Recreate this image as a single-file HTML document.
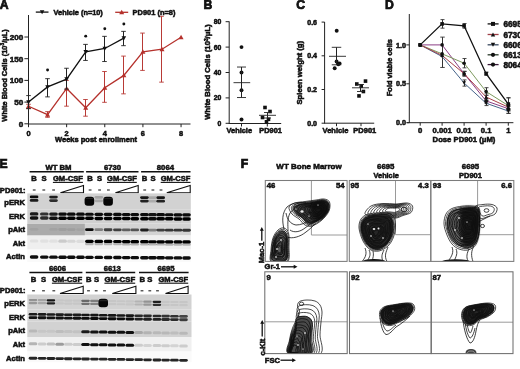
<!DOCTYPE html>
<html><head><meta charset="utf-8"><style>
html,body{margin:0;padding:0;background:#fff;width:520px;height:369px;overflow:hidden}
svg{display:block;will-change:transform}
text{font-family:"Liberation Sans", sans-serif;stroke:#000;stroke-width:0.5px;paint-order:stroke}
</style></head><body>
<svg width="520" height="369" viewBox="0 0 520 369" font-family="Liberation Sans, sans-serif">
<defs>
<filter id="b1" x="-30%" y="-100%" width="160%" height="300%"><feGaussianBlur stdDeviation="0.75"/></filter>
<filter id="b06" x="-20%" y="-20%" width="140%" height="140%"><feGaussianBlur stdDeviation="0.6"/></filter>
<filter id="b15" x="-40%" y="-40%" width="180%" height="180%"><feGaussianBlur stdDeviation="1.6"/></filter>
</defs>
<rect width="520" height="369" fill="#fff"/>
<text x="-0.30" y="8.60" font-size="12.2" text-anchor="start" font-weight="bold" fill="#111" style="stroke-width:0.7px">A</text>
<text x="203.60" y="8.80" font-size="12.2" text-anchor="start" font-weight="bold" fill="#111" style="stroke-width:0.7px">B</text>
<text x="296.20" y="9.00" font-size="12.2" text-anchor="start" font-weight="bold" fill="#111" style="stroke-width:0.7px">C</text>
<text x="385.00" y="8.60" font-size="12.2" text-anchor="start" font-weight="bold" fill="#111" style="stroke-width:0.7px">D</text>
<text x="-0.50" y="167.80" font-size="12.2" text-anchor="start" font-weight="bold" fill="#111" style="stroke-width:0.7px">E</text>
<text x="240.80" y="167.90" font-size="12.2" text-anchor="start" font-weight="bold" fill="#111" style="stroke-width:0.7px">F</text>
<line x1="28.50" y1="15.00" x2="28.50" y2="124.30" stroke="#222" stroke-width="1.0" />
<line x1="24.40" y1="123.80" x2="28.50" y2="123.80" stroke="#222" stroke-width="1.0" />
<text x="23.30" y="126.75" font-size="8.1" text-anchor="end" font-weight="bold" fill="#111" >0</text>
<line x1="24.40" y1="102.10" x2="28.50" y2="102.10" stroke="#222" stroke-width="1.0" />
<text x="23.30" y="105.05" font-size="8.1" text-anchor="end" font-weight="bold" fill="#111" >50</text>
<line x1="24.40" y1="80.40" x2="28.50" y2="80.40" stroke="#222" stroke-width="1.0" />
<text x="23.30" y="83.35" font-size="8.1" text-anchor="end" font-weight="bold" fill="#111" >100</text>
<line x1="24.40" y1="58.70" x2="28.50" y2="58.70" stroke="#222" stroke-width="1.0" />
<text x="23.30" y="61.65" font-size="8.1" text-anchor="end" font-weight="bold" fill="#111" >150</text>
<line x1="24.40" y1="37.00" x2="28.50" y2="37.00" stroke="#222" stroke-width="1.0" />
<text x="23.30" y="39.95" font-size="8.1" text-anchor="end" font-weight="bold" fill="#111" >200</text>
<line x1="28.00" y1="124.00" x2="190.50" y2="124.00" stroke="#222" stroke-width="1.0" />
<line x1="28.50" y1="124.00" x2="28.50" y2="127.20" stroke="#222" stroke-width="1.0" />
<line x1="66.64" y1="124.00" x2="66.64" y2="127.20" stroke="#222" stroke-width="1.0" />
<line x1="104.78" y1="124.00" x2="104.78" y2="127.20" stroke="#222" stroke-width="1.0" />
<line x1="142.92" y1="124.00" x2="142.92" y2="127.20" stroke="#222" stroke-width="1.0" />
<line x1="181.06" y1="124.00" x2="181.06" y2="127.20" stroke="#222" stroke-width="1.0" />
<text x="28.50" y="135.60" font-size="7.4" text-anchor="middle" font-weight="bold" fill="#111" >0</text>
<text x="66.64" y="135.60" font-size="7.4" text-anchor="middle" font-weight="bold" fill="#111" >2</text>
<text x="104.78" y="135.60" font-size="7.4" text-anchor="middle" font-weight="bold" fill="#111" >4</text>
<text x="142.92" y="135.60" font-size="7.4" text-anchor="middle" font-weight="bold" fill="#111" >6</text>
<text x="181.06" y="135.60" font-size="7.4" text-anchor="middle" font-weight="bold" fill="#111" >8</text>
<text x="96.00" y="142.20" font-size="7.5" text-anchor="middle" font-weight="bold" fill="#111" >Weeks post enrollment</text>
<text transform="translate(6.8,75.4) rotate(-90)" font-size="7.45" text-anchor="middle" font-weight="bold" fill="#111">White Blood Cells (10<tspan font-size="5" dy="-2.5">3</tspan><tspan dy="2.5">/μL)</tspan></text>
<line x1="28.50" y1="108.61" x2="28.50" y2="104.27" stroke="#b83a36" stroke-width="1.0" />
<line x1="26.20" y1="108.61" x2="30.80" y2="108.61" stroke="#b83a36" stroke-width="0.9" />
<line x1="26.20" y1="104.27" x2="30.80" y2="104.27" stroke="#b83a36" stroke-width="0.9" />
<line x1="47.50" y1="117.29" x2="47.50" y2="111.65" stroke="#b83a36" stroke-width="1.0" />
<line x1="45.20" y1="117.29" x2="49.80" y2="117.29" stroke="#b83a36" stroke-width="0.9" />
<line x1="45.20" y1="111.65" x2="49.80" y2="111.65" stroke="#b83a36" stroke-width="0.9" />
<line x1="66.50" y1="106.18" x2="66.50" y2="80.40" stroke="#b83a36" stroke-width="1.0" />
<line x1="64.20" y1="106.18" x2="68.80" y2="106.18" stroke="#b83a36" stroke-width="0.9" />
<line x1="64.20" y1="80.40" x2="68.80" y2="80.40" stroke="#b83a36" stroke-width="0.9" />
<line x1="85.50" y1="116.20" x2="85.50" y2="99.50" stroke="#b83a36" stroke-width="1.0" />
<line x1="83.20" y1="116.20" x2="87.80" y2="116.20" stroke="#b83a36" stroke-width="0.9" />
<line x1="83.20" y1="99.50" x2="87.80" y2="99.50" stroke="#b83a36" stroke-width="0.9" />
<line x1="104.50" y1="102.32" x2="104.50" y2="71.50" stroke="#b83a36" stroke-width="1.0" />
<line x1="102.20" y1="102.32" x2="106.80" y2="102.32" stroke="#b83a36" stroke-width="0.9" />
<line x1="102.20" y1="71.50" x2="106.80" y2="71.50" stroke="#b83a36" stroke-width="0.9" />
<line x1="123.50" y1="93.85" x2="123.50" y2="56.10" stroke="#b83a36" stroke-width="1.0" />
<line x1="121.20" y1="93.85" x2="125.80" y2="93.85" stroke="#b83a36" stroke-width="0.9" />
<line x1="121.20" y1="56.10" x2="125.80" y2="56.10" stroke="#b83a36" stroke-width="0.9" />
<line x1="142.50" y1="70.42" x2="142.50" y2="33.09" stroke="#b83a36" stroke-width="1.0" />
<line x1="140.20" y1="70.42" x2="144.80" y2="70.42" stroke="#b83a36" stroke-width="0.9" />
<line x1="140.20" y1="33.09" x2="144.80" y2="33.09" stroke="#b83a36" stroke-width="0.9" />
<line x1="161.50" y1="82.14" x2="161.50" y2="16.30" stroke="#b83a36" stroke-width="1.0" />
<line x1="159.20" y1="82.14" x2="163.80" y2="82.14" stroke="#b83a36" stroke-width="0.9" />
<line x1="159.20" y1="16.30" x2="163.80" y2="16.30" stroke="#b83a36" stroke-width="0.9" />
<polyline points="28.50,106.22 47.57,114.69 66.64,88.43 85.71,107.74 104.78,87.78 123.85,75.41 142.92,51.89 161.99,49.24 181.06,37.30" fill="none" stroke="#b5312c" stroke-width="1.3"/>
<polygon points="26.00,108.17 31.00,108.17 28.50,103.67" fill="#b5312c"/>
<polygon points="45.07,116.64 50.07,116.64 47.57,112.14" fill="#b5312c"/>
<polygon points="64.14,90.38 69.14,90.38 66.64,85.88" fill="#b5312c"/>
<polygon points="83.21,109.69 88.21,109.69 85.71,105.19" fill="#b5312c"/>
<polygon points="102.28,89.73 107.28,89.73 104.78,85.23" fill="#b5312c"/>
<polygon points="121.35,77.36 126.35,77.36 123.85,72.86" fill="#b5312c"/>
<polygon points="140.42,53.84 145.42,53.84 142.92,49.34" fill="#b5312c"/>
<polygon points="159.49,51.19 164.49,51.19 161.99,46.69" fill="#b5312c"/>
<polygon points="178.56,39.25 183.56,39.25 181.06,34.75" fill="#b5312c"/>
<line x1="28.50" y1="108.61" x2="28.50" y2="95.59" stroke="#222" stroke-width="1.0" />
<line x1="26.20" y1="108.61" x2="30.80" y2="108.61" stroke="#222" stroke-width="0.9" />
<line x1="26.20" y1="95.59" x2="30.80" y2="95.59" stroke="#222" stroke-width="0.9" />
<line x1="47.50" y1="96.89" x2="47.50" y2="78.66" stroke="#222" stroke-width="1.0" />
<line x1="45.20" y1="96.89" x2="49.80" y2="96.89" stroke="#222" stroke-width="0.9" />
<line x1="45.20" y1="78.66" x2="49.80" y2="78.66" stroke="#222" stroke-width="0.9" />
<line x1="66.50" y1="89.08" x2="66.50" y2="68.25" stroke="#222" stroke-width="1.0" />
<line x1="64.20" y1="89.08" x2="68.80" y2="89.08" stroke="#222" stroke-width="0.9" />
<line x1="64.20" y1="68.25" x2="68.80" y2="68.25" stroke="#222" stroke-width="0.9" />
<line x1="85.50" y1="60.44" x2="85.50" y2="44.38" stroke="#222" stroke-width="1.0" />
<line x1="83.20" y1="60.44" x2="87.80" y2="60.44" stroke="#222" stroke-width="0.9" />
<line x1="83.20" y1="44.38" x2="87.80" y2="44.38" stroke="#222" stroke-width="0.9" />
<line x1="104.50" y1="61.52" x2="104.50" y2="36.35" stroke="#222" stroke-width="1.0" />
<line x1="102.20" y1="61.52" x2="106.80" y2="61.52" stroke="#222" stroke-width="0.9" />
<line x1="102.20" y1="36.35" x2="106.80" y2="36.35" stroke="#222" stroke-width="0.9" />
<line x1="123.50" y1="45.68" x2="123.50" y2="31.36" stroke="#222" stroke-width="1.0" />
<line x1="121.20" y1="45.68" x2="125.80" y2="45.68" stroke="#222" stroke-width="0.9" />
<line x1="121.20" y1="31.36" x2="125.80" y2="31.36" stroke="#222" stroke-width="0.9" />
<polyline points="28.50,102.10 47.57,86.91 66.64,79.10 85.71,51.76 104.78,48.50 123.85,38.08" fill="none" stroke="#111" stroke-width="1.3"/>
<polygon points="26.20,100.33 30.80,100.33 28.50,104.47" fill="#111"/>
<polygon points="45.27,85.14 49.87,85.14 47.57,89.28" fill="#111"/>
<polygon points="64.34,77.33 68.94,77.33 66.64,81.47" fill="#111"/>
<polygon points="83.41,49.99 88.01,49.99 85.71,54.13" fill="#111"/>
<polygon points="102.48,46.73 107.08,46.73 104.78,50.87" fill="#111"/>
<polygon points="121.55,36.31 126.15,36.31 123.85,40.45" fill="#111"/>
<circle cx="47.57" cy="69.98" r="1.45" fill="#111"/>
<circle cx="85.71" cy="36.13" r="1.45" fill="#111"/>
<circle cx="104.78" cy="28.75" r="1.45" fill="#111"/>
<circle cx="123.85" cy="23.98" r="1.45" fill="#111"/>
<line x1="35.80" y1="12.10" x2="48.50" y2="12.10" stroke="#111" stroke-width="1.3" />
<polygon points="39.80,10.23 44.40,10.23 42.10,14.37" fill="#111"/>
<text x="53.60" y="14.70" font-size="7.35" text-anchor="start" font-weight="bold" fill="#111" >Vehicle (n=10)</text>
<line x1="115.20" y1="12.30" x2="128.20" y2="12.30" stroke="#b5312c" stroke-width="1.3" />
<polygon points="119.20,14.15 124.20,14.15 121.70,9.65" fill="#b5312c"/>
<text x="132.60" y="14.90" font-size="7.45" text-anchor="start" font-weight="bold" fill="#111" >PD901 (n=8)</text>
<line x1="229.20" y1="21.40" x2="229.20" y2="123.80" stroke="#222" stroke-width="1.0" />
<line x1="225.60" y1="123.30" x2="229.20" y2="123.30" stroke="#222" stroke-width="1.0" />
<text x="221.20" y="125.80" font-size="6.8" text-anchor="end" font-weight="bold" fill="#111" >0</text>
<line x1="225.60" y1="97.90" x2="229.20" y2="97.90" stroke="#222" stroke-width="1.0" />
<text x="221.20" y="100.40" font-size="6.8" text-anchor="end" font-weight="bold" fill="#111" >20</text>
<line x1="225.60" y1="72.50" x2="229.20" y2="72.50" stroke="#222" stroke-width="1.0" />
<text x="221.20" y="75.00" font-size="6.8" text-anchor="end" font-weight="bold" fill="#111" >40</text>
<line x1="225.60" y1="47.10" x2="229.20" y2="47.10" stroke="#222" stroke-width="1.0" />
<text x="221.20" y="49.60" font-size="6.8" text-anchor="end" font-weight="bold" fill="#111" >60</text>
<line x1="225.60" y1="21.70" x2="229.20" y2="21.70" stroke="#222" stroke-width="1.0" />
<text x="221.20" y="24.20" font-size="6.8" text-anchor="end" font-weight="bold" fill="#111" >80</text>
<line x1="228.80" y1="123.50" x2="281.20" y2="123.50" stroke="#222" stroke-width="1.0" />
<line x1="241.50" y1="123.50" x2="241.50" y2="126.50" stroke="#222" stroke-width="1.0" />
<line x1="267.30" y1="123.50" x2="267.30" y2="126.50" stroke="#222" stroke-width="1.0" />
<text x="239.30" y="132.70" font-size="7.4" text-anchor="middle" font-weight="bold" fill="#111" >Vehicle</text>
<text x="270.60" y="132.70" font-size="7.4" text-anchor="middle" font-weight="bold" fill="#111" >PD901</text>
<text transform="translate(210.3,72.0) rotate(-90)" font-size="7.7" text-anchor="middle" font-weight="bold" fill="#111">White Blood Cells (10<tspan font-size="4.8" dy="-2.5">3</tspan><tspan dy="2.5">/μL)</tspan></text>
<circle cx="241.50" cy="47.10" r="1.95" fill="#111"/>
<circle cx="241.50" cy="72.50" r="1.95" fill="#111"/>
<circle cx="241.50" cy="90.28" r="1.95" fill="#111"/>
<circle cx="241.50" cy="119.49" r="1.95" fill="#111"/>
<line x1="233.50" y1="82.66" x2="250.20" y2="82.66" stroke="#222" stroke-width="0.9" />
<line x1="241.50" y1="97.52" x2="241.50" y2="67.04" stroke="#222" stroke-width="1.0" />
<line x1="237.00" y1="97.52" x2="246.00" y2="97.52" stroke="#222" stroke-width="0.9" />
<line x1="237.00" y1="67.04" x2="246.00" y2="67.04" stroke="#222" stroke-width="0.9" />
<rect x="263.20" y="105.70" width="3.60" height="3.60" fill="#111" />
<rect x="268.20" y="109.70" width="3.60" height="3.60" fill="#111" />
<rect x="260.70" y="115.70" width="3.60" height="3.60" fill="#111" />
<rect x="266.70" y="117.50" width="3.60" height="3.60" fill="#111" />
<rect x="264.70" y="120.00" width="3.60" height="3.60" fill="#111" />
<line x1="259.00" y1="115.30" x2="276.00" y2="115.30" stroke="#222" stroke-width="0.9" />
<line x1="267.50" y1="112.50" x2="267.50" y2="118.00" stroke="#222" stroke-width="1.0" />
<line x1="264.00" y1="112.50" x2="271.00" y2="112.50" stroke="#222" stroke-width="0.9" />
<line x1="264.00" y1="118.00" x2="271.00" y2="118.00" stroke="#222" stroke-width="0.9" />
<line x1="324.60" y1="22.00" x2="324.60" y2="123.50" stroke="#222" stroke-width="1.0" />
<line x1="321.60" y1="123.20" x2="324.60" y2="123.20" stroke="#222" stroke-width="1.0" />
<text x="317.00" y="125.80" font-size="7.0" text-anchor="end" font-weight="bold" fill="#111" >0.0</text>
<line x1="321.60" y1="89.50" x2="324.60" y2="89.50" stroke="#222" stroke-width="1.0" />
<text x="317.00" y="92.10" font-size="7.0" text-anchor="end" font-weight="bold" fill="#111" >0.2</text>
<line x1="321.60" y1="55.80" x2="324.60" y2="55.80" stroke="#222" stroke-width="1.0" />
<text x="317.00" y="58.40" font-size="7.0" text-anchor="end" font-weight="bold" fill="#111" >0.4</text>
<line x1="321.60" y1="22.10" x2="324.60" y2="22.10" stroke="#222" stroke-width="1.0" />
<text x="317.00" y="24.70" font-size="7.0" text-anchor="end" font-weight="bold" fill="#111" >0.6</text>
<line x1="324.20" y1="123.20" x2="374.20" y2="123.20" stroke="#222" stroke-width="1.0" />
<line x1="336.50" y1="123.20" x2="336.50" y2="126.20" stroke="#222" stroke-width="1.0" />
<line x1="361.00" y1="123.20" x2="361.00" y2="126.20" stroke="#222" stroke-width="1.0" />
<text x="335.50" y="133.20" font-size="7.5" text-anchor="middle" font-weight="bold" fill="#111" >Vehicle</text>
<text x="364.80" y="133.20" font-size="7.5" text-anchor="middle" font-weight="bold" fill="#111" >PD901</text>
<text transform="translate(301.8,72.7) rotate(-90)" font-size="7.7" text-anchor="middle" font-weight="bold" fill="#111">Spleen weight (g)</text>
<circle cx="336.70" cy="30.70" r="1.95" fill="#111"/>
<circle cx="334.70" cy="68.20" r="1.95" fill="#111"/>
<circle cx="336.60" cy="61.50" r="1.95" fill="#111"/>
<circle cx="339.60" cy="63.40" r="1.95" fill="#111"/>
<circle cx="338.30" cy="64.30" r="1.95" fill="#111"/>
<line x1="329.00" y1="56.30" x2="346.00" y2="56.30" stroke="#222" stroke-width="0.9" />
<line x1="336.50" y1="47.30" x2="336.50" y2="64.80" stroke="#222" stroke-width="1.0" />
<line x1="331.75" y1="47.30" x2="341.25" y2="47.30" stroke="#222" stroke-width="0.9" />
<line x1="331.75" y1="64.80" x2="341.25" y2="64.80" stroke="#222" stroke-width="0.9" />
<rect x="355.00" y="82.20" width="3.60" height="3.60" fill="#111" />
<rect x="363.70" y="79.30" width="3.60" height="3.60" fill="#111" />
<rect x="359.40" y="84.30" width="3.60" height="3.60" fill="#111" />
<rect x="361.60" y="89.70" width="3.60" height="3.60" fill="#111" />
<rect x="357.20" y="94.10" width="3.60" height="3.60" fill="#111" />
<line x1="352.00" y1="87.80" x2="369.00" y2="87.80" stroke="#222" stroke-width="0.9" />
<line x1="360.50" y1="84.50" x2="360.50" y2="91.50" stroke="#222" stroke-width="1.0" />
<line x1="357.00" y1="84.50" x2="364.00" y2="84.50" stroke="#222" stroke-width="0.9" />
<line x1="357.00" y1="91.50" x2="364.00" y2="91.50" stroke="#222" stroke-width="0.9" />
<line x1="409.30" y1="14.00" x2="409.30" y2="123.00" stroke="#222" stroke-width="1.0" />
<line x1="406.30" y1="122.70" x2="409.30" y2="122.70" stroke="#222" stroke-width="1.0" />
<text x="406.00" y="125.30" font-size="7.2" text-anchor="end" font-weight="bold" fill="#111" >0.0</text>
<line x1="406.30" y1="83.80" x2="409.30" y2="83.80" stroke="#222" stroke-width="1.0" />
<text x="406.00" y="86.40" font-size="7.2" text-anchor="end" font-weight="bold" fill="#111" >0.5</text>
<line x1="406.30" y1="44.90" x2="409.30" y2="44.90" stroke="#222" stroke-width="1.0" />
<text x="406.00" y="47.50" font-size="7.2" text-anchor="end" font-weight="bold" fill="#111" >1.0</text>
<line x1="407.00" y1="122.70" x2="513.40" y2="122.70" stroke="#222" stroke-width="1.0" />
<line x1="420.20" y1="122.70" x2="420.20" y2="125.70" stroke="#222" stroke-width="1.0" />
<line x1="442.10" y1="122.70" x2="442.10" y2="125.70" stroke="#222" stroke-width="1.0" />
<line x1="464.10" y1="122.70" x2="464.10" y2="125.70" stroke="#222" stroke-width="1.0" />
<line x1="486.10" y1="122.70" x2="486.10" y2="125.70" stroke="#222" stroke-width="1.0" />
<line x1="508.30" y1="122.70" x2="508.30" y2="125.70" stroke="#222" stroke-width="1.0" />
<text x="420.20" y="133.00" font-size="7.7" text-anchor="middle" font-weight="bold" fill="#111" >0</text>
<text x="442.10" y="133.00" font-size="7.7" text-anchor="middle" font-weight="bold" fill="#111" >0.001</text>
<text x="464.10" y="133.00" font-size="7.7" text-anchor="middle" font-weight="bold" fill="#111" >0.01</text>
<text x="486.10" y="133.00" font-size="7.7" text-anchor="middle" font-weight="bold" fill="#111" >0.1</text>
<text x="508.30" y="133.00" font-size="7.7" text-anchor="middle" font-weight="bold" fill="#111" >1</text>
<text x="464.00" y="141.80" font-size="7.7" text-anchor="middle" font-weight="bold" fill="#111" >Dose PD901 (μM)</text>
<text transform="translate(392.0,67.6) rotate(-90)" font-size="7.4" text-anchor="middle" font-weight="bold" fill="#111">Fold viable cells</text>
<line x1="442.50" y1="37.12" x2="442.50" y2="67.46" stroke="#333" stroke-width="1.0" />
<line x1="440.25" y1="37.12" x2="444.75" y2="37.12" stroke="#333" stroke-width="0.9" />
<line x1="440.25" y1="67.46" x2="444.75" y2="67.46" stroke="#333" stroke-width="0.9" />
<line x1="464.50" y1="71.35" x2="464.50" y2="76.02" stroke="#333" stroke-width="1.0" />
<line x1="462.50" y1="71.35" x2="466.50" y2="71.35" stroke="#333" stroke-width="0.9" />
<line x1="462.50" y1="76.02" x2="466.50" y2="76.02" stroke="#333" stroke-width="0.9" />
<line x1="486.50" y1="98.58" x2="486.50" y2="103.25" stroke="#333" stroke-width="1.0" />
<line x1="484.50" y1="98.58" x2="488.50" y2="98.58" stroke="#333" stroke-width="0.9" />
<line x1="484.50" y1="103.25" x2="488.50" y2="103.25" stroke="#333" stroke-width="0.9" />
<line x1="508.50" y1="106.36" x2="508.50" y2="111.03" stroke="#333" stroke-width="1.0" />
<line x1="506.50" y1="106.36" x2="510.50" y2="106.36" stroke="#333" stroke-width="0.9" />
<line x1="506.50" y1="111.03" x2="510.50" y2="111.03" stroke="#333" stroke-width="0.9" />
<line x1="464.50" y1="58.52" x2="464.50" y2="67.85" stroke="#333" stroke-width="1.0" />
<line x1="462.50" y1="58.52" x2="466.50" y2="58.52" stroke="#333" stroke-width="0.9" />
<line x1="462.50" y1="67.85" x2="466.50" y2="67.85" stroke="#333" stroke-width="0.9" />
<line x1="486.50" y1="87.69" x2="486.50" y2="95.47" stroke="#333" stroke-width="1.0" />
<line x1="484.50" y1="87.69" x2="488.50" y2="87.69" stroke="#333" stroke-width="0.9" />
<line x1="484.50" y1="95.47" x2="488.50" y2="95.47" stroke="#333" stroke-width="0.9" />
<line x1="508.50" y1="97.80" x2="508.50" y2="113.36" stroke="#333" stroke-width="1.0" />
<line x1="506.50" y1="97.80" x2="510.50" y2="97.80" stroke="#333" stroke-width="0.9" />
<line x1="506.50" y1="113.36" x2="510.50" y2="113.36" stroke="#333" stroke-width="0.9" />
<line x1="464.50" y1="79.91" x2="464.50" y2="86.13" stroke="#333" stroke-width="1.0" />
<line x1="462.50" y1="79.91" x2="466.50" y2="79.91" stroke="#333" stroke-width="0.9" />
<line x1="462.50" y1="86.13" x2="466.50" y2="86.13" stroke="#333" stroke-width="0.9" />
<line x1="486.50" y1="100.92" x2="486.50" y2="105.58" stroke="#333" stroke-width="1.0" />
<line x1="484.50" y1="100.92" x2="488.50" y2="100.92" stroke="#333" stroke-width="0.9" />
<line x1="484.50" y1="105.58" x2="488.50" y2="105.58" stroke="#333" stroke-width="0.9" />
<line x1="508.50" y1="108.70" x2="508.50" y2="113.36" stroke="#333" stroke-width="1.0" />
<line x1="506.50" y1="108.70" x2="510.50" y2="108.70" stroke="#333" stroke-width="0.9" />
<line x1="506.50" y1="113.36" x2="510.50" y2="113.36" stroke="#333" stroke-width="0.9" />
<line x1="464.50" y1="71.35" x2="464.50" y2="76.02" stroke="#333" stroke-width="1.0" />
<line x1="462.50" y1="71.35" x2="466.50" y2="71.35" stroke="#333" stroke-width="0.9" />
<line x1="462.50" y1="76.02" x2="466.50" y2="76.02" stroke="#333" stroke-width="0.9" />
<line x1="486.50" y1="93.91" x2="486.50" y2="100.14" stroke="#333" stroke-width="1.0" />
<line x1="484.50" y1="93.91" x2="488.50" y2="93.91" stroke="#333" stroke-width="0.9" />
<line x1="484.50" y1="100.14" x2="488.50" y2="100.14" stroke="#333" stroke-width="0.9" />
<line x1="508.50" y1="104.81" x2="508.50" y2="109.47" stroke="#333" stroke-width="1.0" />
<line x1="506.50" y1="104.81" x2="510.50" y2="104.81" stroke="#333" stroke-width="0.9" />
<line x1="506.50" y1="109.47" x2="510.50" y2="109.47" stroke="#333" stroke-width="0.9" />
<line x1="442.50" y1="19.62" x2="442.50" y2="28.17" stroke="#333" stroke-width="1.0" />
<line x1="440.50" y1="19.62" x2="444.50" y2="19.62" stroke="#333" stroke-width="0.9" />
<line x1="440.50" y1="28.17" x2="444.50" y2="28.17" stroke="#333" stroke-width="0.9" />
<line x1="464.50" y1="23.50" x2="464.50" y2="28.17" stroke="#333" stroke-width="1.0" />
<line x1="462.50" y1="23.50" x2="466.50" y2="23.50" stroke="#333" stroke-width="0.9" />
<line x1="462.50" y1="28.17" x2="466.50" y2="28.17" stroke="#333" stroke-width="0.9" />
<line x1="486.50" y1="72.13" x2="486.50" y2="75.24" stroke="#333" stroke-width="1.0" />
<line x1="484.50" y1="72.13" x2="488.50" y2="72.13" stroke="#333" stroke-width="0.9" />
<line x1="484.50" y1="75.24" x2="488.50" y2="75.24" stroke="#333" stroke-width="0.9" />
<line x1="508.50" y1="97.80" x2="508.50" y2="110.25" stroke="#333" stroke-width="1.0" />
<line x1="506.50" y1="97.80" x2="510.50" y2="97.80" stroke="#333" stroke-width="0.9" />
<line x1="506.50" y1="110.25" x2="510.50" y2="110.25" stroke="#333" stroke-width="0.9" />
<polyline points="420.20,44.90 442.10,44.90 464.10,73.69 486.10,100.92 508.30,108.70" fill="none" stroke="#8a3d84" stroke-width="1.0"/>
<polyline points="420.20,44.90 442.10,53.85 464.10,63.18 486.10,91.58 508.30,105.58" fill="none" stroke="#7d9a5e" stroke-width="1.0"/>
<polyline points="420.20,44.90 442.10,56.57 464.10,83.02 486.10,103.25 508.30,111.03" fill="none" stroke="#46648a" stroke-width="1.0"/>
<polyline points="420.20,44.90 442.10,55.40 464.10,73.69 486.10,97.03 508.30,107.14" fill="none" stroke="#a84048" stroke-width="1.0"/>
<polyline points="420.20,44.90 442.10,23.89 464.10,25.84 486.10,73.69 508.30,104.03" fill="none" stroke="#111" stroke-width="1.3"/>
<circle cx="420.20" cy="44.90" r="1.8" fill="#111"/>
<circle cx="442.10" cy="44.90" r="1.8" fill="#111"/>
<circle cx="464.10" cy="73.69" r="1.8" fill="#111"/>
<circle cx="486.10" cy="100.92" r="1.8" fill="#111"/>
<circle cx="508.30" cy="108.70" r="1.8" fill="#111"/>
<circle cx="420.20" cy="44.90" r="1.8" fill="#111"/>
<circle cx="442.10" cy="53.85" r="1.8" fill="#111"/>
<circle cx="464.10" cy="63.18" r="1.8" fill="#111"/>
<circle cx="486.10" cy="91.58" r="1.8" fill="#111"/>
<circle cx="508.30" cy="105.58" r="1.8" fill="#111"/>
<polygon points="418.30,43.19 422.10,43.19 420.20,46.61" fill="#111"/>
<polygon points="440.20,54.86 444.00,54.86 442.10,58.28" fill="#111"/>
<polygon points="462.20,81.31 466.00,81.31 464.10,84.73" fill="#111"/>
<polygon points="484.20,101.54 488.00,101.54 486.10,104.96" fill="#111"/>
<polygon points="506.40,109.32 510.20,109.32 508.30,112.74" fill="#111"/>
<polygon points="418.30,46.61 422.10,46.61 420.20,43.19" fill="#111"/>
<polygon points="440.20,57.11 444.00,57.11 442.10,53.69" fill="#111"/>
<polygon points="462.20,75.40 466.00,75.40 464.10,71.98" fill="#111"/>
<polygon points="484.20,98.74 488.00,98.74 486.10,95.32" fill="#111"/>
<polygon points="506.40,108.85 510.20,108.85 508.30,105.43" fill="#111"/>
<rect x="418.40" y="43.10" width="3.60" height="3.60" fill="#111" />
<rect x="440.30" y="22.09" width="3.60" height="3.60" fill="#111" />
<rect x="462.30" y="24.04" width="3.60" height="3.60" fill="#111" />
<rect x="484.30" y="71.89" width="3.60" height="3.60" fill="#111" />
<rect x="506.50" y="102.23" width="3.60" height="3.60" fill="#111" />
<line x1="487.60" y1="23.90" x2="498.60" y2="23.90" stroke="#111" stroke-width="1.3" />
<rect x="491.00" y="21.90" width="4.00" height="4.00" fill="#111" />
<text x="503.40" y="26.90" font-size="8.3" text-anchor="start" font-weight="bold" fill="#111" >6695</text>
<line x1="487.60" y1="34.50" x2="498.60" y2="34.50" stroke="#a04048" stroke-width="1.3" />
<polygon points="490.80,36.48 495.20,36.48 493.00,32.52" fill="#111"/>
<text x="503.40" y="37.50" font-size="8.3" text-anchor="start" font-weight="bold" fill="#111" >6730</text>
<line x1="487.60" y1="44.80" x2="498.60" y2="44.80" stroke="#3a4a60" stroke-width="1.3" />
<polygon points="490.80,42.82 495.20,42.82 493.00,46.78" fill="#111"/>
<text x="503.40" y="47.80" font-size="8.3" text-anchor="start" font-weight="bold" fill="#111" >6606</text>
<line x1="487.60" y1="54.80" x2="498.60" y2="54.80" stroke="#2a3a2a" stroke-width="1.3" />
<circle cx="493.00" cy="54.80" r="2.1" fill="#111"/>
<text x="503.40" y="57.80" font-size="8.3" text-anchor="start" font-weight="bold" fill="#111" >6613</text>
<line x1="487.60" y1="64.60" x2="498.60" y2="64.60" stroke="#3a1a38" stroke-width="1.3" />
<circle cx="493.00" cy="64.60" r="2.1" fill="#111"/>
<text x="503.40" y="67.60" font-size="8.3" text-anchor="start" font-weight="bold" fill="#111" >8064</text>
<text x="58.50" y="170.30" font-size="7.7" text-anchor="middle" font-weight="bold" fill="#111" >WT BM</text>
<line x1="29.60" y1="171.80" x2="83.80" y2="171.80" stroke="#111" stroke-width="1.5" />
<text x="34.10" y="181.10" font-size="7.7" text-anchor="middle" font-weight="bold" fill="#111" >B</text>
<text x="44.00" y="181.10" font-size="7.7" text-anchor="middle" font-weight="bold" fill="#111" >S</text>
<text x="52.90" y="181.10" font-size="7.7" font-weight="bold" fill="#111" textLength="30.00" lengthAdjust="spacingAndGlyphs">GM-CSF</text>
<line x1="52.90" y1="182.40" x2="82.90" y2="182.40" stroke="#111" stroke-width="1.1" />
<line x1="32.80" y1="190.00" x2="35.60" y2="190.00" stroke="#222" stroke-width="1.1" />
<line x1="42.40" y1="190.00" x2="45.20" y2="190.00" stroke="#222" stroke-width="1.1" />
<line x1="52.20" y1="190.00" x2="55.00" y2="190.00" stroke="#222" stroke-width="1.1" />
<polygon points="60.40,192.70 83.50,185.50 83.50,192.70" fill="#fff" stroke="#111" stroke-width="1.1" stroke-linejoin="miter"/>
<text x="112.50" y="170.30" font-size="7.7" text-anchor="middle" font-weight="bold" fill="#111" >6730</text>
<line x1="86.10" y1="171.80" x2="138.50" y2="171.80" stroke="#111" stroke-width="1.5" />
<text x="90.10" y="181.10" font-size="7.7" text-anchor="middle" font-weight="bold" fill="#111" >B</text>
<text x="99.60" y="181.10" font-size="7.7" text-anchor="middle" font-weight="bold" fill="#111" >S</text>
<text x="107.00" y="181.10" font-size="7.7" font-weight="bold" fill="#111" textLength="29.80" lengthAdjust="spacingAndGlyphs">GM-CSF</text>
<line x1="107.00" y1="182.40" x2="136.80" y2="182.40" stroke="#111" stroke-width="1.1" />
<line x1="88.70" y1="190.00" x2="91.50" y2="190.00" stroke="#222" stroke-width="1.1" />
<line x1="98.20" y1="190.00" x2="101.00" y2="190.00" stroke="#222" stroke-width="1.1" />
<line x1="107.00" y1="190.00" x2="109.80" y2="190.00" stroke="#222" stroke-width="1.1" />
<polygon points="115.40,192.70 138.20,185.50 138.20,192.70" fill="#fff" stroke="#111" stroke-width="1.1" stroke-linejoin="miter"/>
<text x="165.40" y="170.30" font-size="7.7" text-anchor="middle" font-weight="bold" fill="#111" >8064</text>
<line x1="141.10" y1="171.80" x2="190.50" y2="171.80" stroke="#111" stroke-width="1.5" />
<text x="144.60" y="181.10" font-size="7.7" text-anchor="middle" font-weight="bold" fill="#111" >B</text>
<text x="153.00" y="181.10" font-size="7.7" text-anchor="middle" font-weight="bold" fill="#111" >S</text>
<text x="160.70" y="181.10" font-size="7.7" font-weight="bold" fill="#111" textLength="29.80" lengthAdjust="spacingAndGlyphs">GM-CSF</text>
<line x1="160.70" y1="182.40" x2="190.50" y2="182.40" stroke="#111" stroke-width="1.1" />
<line x1="143.30" y1="190.00" x2="146.10" y2="190.00" stroke="#222" stroke-width="1.1" />
<line x1="151.50" y1="190.00" x2="154.30" y2="190.00" stroke="#222" stroke-width="1.1" />
<line x1="159.60" y1="190.00" x2="162.40" y2="190.00" stroke="#222" stroke-width="1.1" />
<polygon points="166.80,192.70 190.20,185.50 190.20,192.70" fill="#fff" stroke="#111" stroke-width="1.1" stroke-linejoin="miter"/>
<text x="25.60" y="192.60" font-size="7.6" text-anchor="end" font-weight="bold" fill="#111" >PD901:</text>
<rect x="27.30" y="193.40" width="163.50" height="15.90" fill="#d2d2d2" />
<rect x="27.30" y="209.30" width="163.50" height="14.20" fill="#d0d0d0" />
<rect x="27.30" y="223.50" width="163.50" height="12.00" fill="#d3d3d3" />
<rect x="27.30" y="223.80" width="57.50" height="11.70" fill="#ababab" />
<rect x="27.30" y="235.50" width="163.50" height="14.00" fill="#efefef" />
<rect x="27.30" y="249.50" width="163.50" height="12.50" fill="#fafafa" />
<text x="25.00" y="205.45" font-size="7.6" text-anchor="end" font-weight="bold" fill="#111" >pERK</text>
<text x="25.00" y="218.95" font-size="7.6" text-anchor="end" font-weight="bold" fill="#111" >ERK</text>
<text x="25.00" y="232.35" font-size="7.6" text-anchor="end" font-weight="bold" fill="#111" >pAkt</text>
<text x="25.00" y="245.75" font-size="7.6" text-anchor="end" font-weight="bold" fill="#111" >Akt</text>
<text x="25.00" y="259.35" font-size="7.6" text-anchor="end" font-weight="bold" fill="#111" >Actin</text>
<rect x="29.80" y="195.52" width="8.60" height="2.80" rx="1.40" fill="#000" fill-opacity="0.95" filter="url(#b1)"/>
<rect x="29.80" y="199.02" width="8.60" height="2.80" rx="1.40" fill="#000" fill-opacity="0.87" filter="url(#b1)"/>
<rect x="49.20" y="195.64" width="8.60" height="2.80" rx="1.40" fill="#000" fill-opacity="0.85" filter="url(#b1)"/>
<rect x="49.20" y="199.14" width="8.60" height="2.80" rx="1.40" fill="#000" fill-opacity="0.78" filter="url(#b1)"/>
<rect x="84.60" y="196.66" width="9.60" height="9.00" rx="3" fill="#000" fill-opacity="0.97" filter="url(#b1)"/>
<rect x="85.60" y="197.86" width="7.60" height="1.2" fill="#555" fill-opacity="0.35" filter="url(#b1)"/>
<rect x="94.50" y="195.91" width="8.60" height="2.80" rx="1.40" fill="#000" fill-opacity="0.22" filter="url(#b1)"/>
<rect x="94.50" y="199.41" width="8.60" height="2.80" rx="1.40" fill="#000" fill-opacity="0.20" filter="url(#b1)"/>
<rect x="103.30" y="196.77" width="9.60" height="9.00" rx="3" fill="#000" fill-opacity="0.97" filter="url(#b1)"/>
<rect x="104.30" y="197.97" width="7.60" height="1.2" fill="#555" fill-opacity="0.35" filter="url(#b1)"/>
<rect x="140.10" y="196.19" width="8.60" height="2.80" rx="1.40" fill="#000" fill-opacity="0.90" filter="url(#b1)"/>
<rect x="140.10" y="199.69" width="8.60" height="2.80" rx="1.40" fill="#000" fill-opacity="0.83" filter="url(#b1)"/>
<rect x="148.20" y="196.24" width="8.60" height="2.80" rx="1.40" fill="#000" fill-opacity="0.20" filter="url(#b1)"/>
<rect x="148.20" y="199.74" width="8.60" height="2.80" rx="1.40" fill="#000" fill-opacity="0.18" filter="url(#b1)"/>
<rect x="156.40" y="196.28" width="8.60" height="2.80" rx="1.40" fill="#000" fill-opacity="0.90" filter="url(#b1)"/>
<rect x="156.40" y="199.78" width="8.60" height="2.80" rx="1.40" fill="#000" fill-opacity="0.83" filter="url(#b1)"/>
<rect x="29.80" y="212.32" width="8.60" height="3.20" rx="1.60" fill="#000" fill-opacity="0.87" filter="url(#b1)"/>
<rect x="29.80" y="216.27" width="8.60" height="3.50" rx="1.75" fill="#000" fill-opacity="0.92" filter="url(#b1)"/>
<rect x="40.00" y="212.39" width="8.60" height="3.20" rx="1.60" fill="#000" fill-opacity="0.76" filter="url(#b1)"/>
<rect x="40.00" y="216.34" width="8.60" height="3.50" rx="1.75" fill="#000" fill-opacity="0.80" filter="url(#b1)"/>
<rect x="49.20" y="212.44" width="8.60" height="3.20" rx="1.60" fill="#000" fill-opacity="0.87" filter="url(#b1)"/>
<rect x="49.20" y="216.39" width="8.60" height="3.50" rx="1.75" fill="#000" fill-opacity="0.92" filter="url(#b1)"/>
<rect x="58.30" y="212.50" width="8.60" height="3.20" rx="1.60" fill="#000" fill-opacity="0.95" filter="url(#b1)"/>
<rect x="58.30" y="216.45" width="8.60" height="3.50" rx="1.75" fill="#000" fill-opacity="1.00" filter="url(#b1)"/>
<rect x="67.00" y="212.55" width="8.60" height="3.20" rx="1.60" fill="#000" fill-opacity="0.95" filter="url(#b1)"/>
<rect x="67.00" y="216.50" width="8.60" height="3.50" rx="1.75" fill="#000" fill-opacity="1.00" filter="url(#b1)"/>
<rect x="76.20" y="212.60" width="8.60" height="3.20" rx="1.60" fill="#000" fill-opacity="0.95" filter="url(#b1)"/>
<rect x="76.20" y="216.55" width="8.60" height="3.50" rx="1.75" fill="#000" fill-opacity="1.00" filter="url(#b1)"/>
<rect x="85.10" y="212.66" width="8.60" height="3.20" rx="1.60" fill="#000" fill-opacity="0.95" filter="url(#b1)"/>
<rect x="85.10" y="216.61" width="8.60" height="3.50" rx="1.75" fill="#000" fill-opacity="1.00" filter="url(#b1)"/>
<rect x="94.50" y="212.71" width="8.60" height="3.20" rx="1.60" fill="#000" fill-opacity="0.95" filter="url(#b1)"/>
<rect x="94.50" y="216.66" width="8.60" height="3.50" rx="1.75" fill="#000" fill-opacity="1.00" filter="url(#b1)"/>
<rect x="103.80" y="212.77" width="8.60" height="3.20" rx="1.60" fill="#000" fill-opacity="0.95" filter="url(#b1)"/>
<rect x="103.80" y="216.72" width="8.60" height="3.50" rx="1.75" fill="#000" fill-opacity="1.00" filter="url(#b1)"/>
<rect x="113.10" y="212.82" width="8.60" height="3.20" rx="1.60" fill="#000" fill-opacity="0.95" filter="url(#b1)"/>
<rect x="113.10" y="216.77" width="8.60" height="3.50" rx="1.75" fill="#000" fill-opacity="1.00" filter="url(#b1)"/>
<rect x="121.90" y="212.88" width="8.60" height="3.20" rx="1.60" fill="#000" fill-opacity="0.95" filter="url(#b1)"/>
<rect x="121.90" y="216.83" width="8.60" height="3.50" rx="1.75" fill="#000" fill-opacity="1.00" filter="url(#b1)"/>
<rect x="130.50" y="212.93" width="8.60" height="3.20" rx="1.60" fill="#000" fill-opacity="0.95" filter="url(#b1)"/>
<rect x="130.50" y="216.88" width="8.60" height="3.50" rx="1.75" fill="#000" fill-opacity="1.00" filter="url(#b1)"/>
<rect x="140.10" y="212.99" width="8.60" height="3.20" rx="1.60" fill="#000" fill-opacity="0.95" filter="url(#b1)"/>
<rect x="140.10" y="216.94" width="8.60" height="3.50" rx="1.75" fill="#000" fill-opacity="1.00" filter="url(#b1)"/>
<rect x="148.20" y="213.04" width="8.60" height="3.20" rx="1.60" fill="#000" fill-opacity="0.90" filter="url(#b1)"/>
<rect x="148.20" y="216.99" width="8.60" height="3.50" rx="1.75" fill="#000" fill-opacity="0.95" filter="url(#b1)"/>
<rect x="156.40" y="213.08" width="8.60" height="3.20" rx="1.60" fill="#000" fill-opacity="0.95" filter="url(#b1)"/>
<rect x="156.40" y="217.03" width="8.60" height="3.50" rx="1.75" fill="#000" fill-opacity="1.00" filter="url(#b1)"/>
<rect x="164.90" y="213.14" width="8.60" height="3.20" rx="1.60" fill="#000" fill-opacity="0.95" filter="url(#b1)"/>
<rect x="164.90" y="217.09" width="8.60" height="3.50" rx="1.75" fill="#000" fill-opacity="1.00" filter="url(#b1)"/>
<rect x="173.60" y="213.19" width="8.60" height="3.20" rx="1.60" fill="#000" fill-opacity="0.95" filter="url(#b1)"/>
<rect x="173.60" y="217.14" width="8.60" height="3.50" rx="1.75" fill="#000" fill-opacity="1.00" filter="url(#b1)"/>
<rect x="182.20" y="213.24" width="8.60" height="3.20" rx="1.60" fill="#000" fill-opacity="0.95" filter="url(#b1)"/>
<rect x="182.20" y="217.19" width="8.60" height="3.50" rx="1.75" fill="#000" fill-opacity="1.00" filter="url(#b1)"/>
<rect x="29.80" y="227.92" width="8.60" height="2.80" rx="1.40" fill="#000" fill-opacity="0.05" filter="url(#b1)"/>
<rect x="49.20" y="228.04" width="8.60" height="2.80" rx="1.40" fill="#000" fill-opacity="0.05" filter="url(#b1)"/>
<rect x="58.30" y="228.10" width="8.60" height="2.80" rx="1.40" fill="#000" fill-opacity="0.08" filter="url(#b1)"/>
<rect x="67.00" y="228.15" width="8.60" height="2.80" rx="1.40" fill="#000" fill-opacity="0.08" filter="url(#b1)"/>
<rect x="76.20" y="228.20" width="8.60" height="2.80" rx="1.40" fill="#000" fill-opacity="0.05" filter="url(#b1)"/>
<rect x="85.10" y="228.26" width="8.60" height="2.80" rx="1.40" fill="#000" fill-opacity="0.95" filter="url(#b1)"/>
<rect x="94.50" y="228.31" width="8.60" height="2.80" rx="1.40" fill="#000" fill-opacity="0.40" filter="url(#b1)"/>
<rect x="103.80" y="228.37" width="8.60" height="2.80" rx="1.40" fill="#000" fill-opacity="0.70" filter="url(#b1)"/>
<rect x="113.10" y="228.42" width="8.60" height="2.80" rx="1.40" fill="#000" fill-opacity="0.70" filter="url(#b1)"/>
<rect x="121.90" y="228.48" width="8.60" height="2.80" rx="1.40" fill="#000" fill-opacity="0.55" filter="url(#b1)"/>
<rect x="130.50" y="228.53" width="8.60" height="2.80" rx="1.40" fill="#000" fill-opacity="0.60" filter="url(#b1)"/>
<rect x="140.10" y="228.59" width="8.60" height="2.80" rx="1.40" fill="#000" fill-opacity="0.85" filter="url(#b1)"/>
<rect x="148.20" y="228.64" width="8.60" height="2.80" rx="1.40" fill="#000" fill-opacity="0.40" filter="url(#b1)"/>
<rect x="156.40" y="228.68" width="8.60" height="2.80" rx="1.40" fill="#000" fill-opacity="0.70" filter="url(#b1)"/>
<rect x="164.90" y="228.74" width="8.60" height="2.80" rx="1.40" fill="#000" fill-opacity="0.75" filter="url(#b1)"/>
<rect x="173.60" y="228.79" width="8.60" height="2.80" rx="1.40" fill="#000" fill-opacity="0.75" filter="url(#b1)"/>
<rect x="182.20" y="228.84" width="8.60" height="2.80" rx="1.40" fill="#000" fill-opacity="0.75" filter="url(#b1)"/>
<rect x="29.80" y="239.42" width="8.60" height="3.20" rx="1.60" fill="#000" fill-opacity="0.06" filter="url(#b1)"/>
<rect x="40.00" y="239.49" width="8.60" height="3.20" rx="1.60" fill="#000" fill-opacity="0.06" filter="url(#b1)"/>
<rect x="49.20" y="239.54" width="8.60" height="3.20" rx="1.60" fill="#000" fill-opacity="0.06" filter="url(#b1)"/>
<rect x="58.30" y="239.60" width="8.60" height="3.20" rx="1.60" fill="#000" fill-opacity="0.15" filter="url(#b1)"/>
<rect x="67.00" y="239.65" width="8.60" height="3.20" rx="1.60" fill="#000" fill-opacity="0.10" filter="url(#b1)"/>
<rect x="76.20" y="239.70" width="8.60" height="3.20" rx="1.60" fill="#000" fill-opacity="0.08" filter="url(#b1)"/>
<rect x="85.10" y="239.76" width="8.60" height="3.20" rx="1.60" fill="#000" fill-opacity="1.00" filter="url(#b1)"/>
<rect x="85.10" y="242.76" width="8.60" height="2.40" rx="1.20" fill="#000" fill-opacity="0.25" filter="url(#b1)"/>
<rect x="94.50" y="239.81" width="8.60" height="3.20" rx="1.60" fill="#000" fill-opacity="1.00" filter="url(#b1)"/>
<rect x="94.50" y="242.81" width="8.60" height="2.40" rx="1.20" fill="#000" fill-opacity="0.25" filter="url(#b1)"/>
<rect x="103.80" y="239.87" width="8.60" height="3.20" rx="1.60" fill="#000" fill-opacity="1.00" filter="url(#b1)"/>
<rect x="103.80" y="242.87" width="8.60" height="2.40" rx="1.20" fill="#000" fill-opacity="0.25" filter="url(#b1)"/>
<rect x="113.10" y="239.92" width="8.60" height="3.20" rx="1.60" fill="#000" fill-opacity="1.00" filter="url(#b1)"/>
<rect x="113.10" y="242.92" width="8.60" height="2.40" rx="1.20" fill="#000" fill-opacity="0.25" filter="url(#b1)"/>
<rect x="121.90" y="239.98" width="8.60" height="3.20" rx="1.60" fill="#000" fill-opacity="1.00" filter="url(#b1)"/>
<rect x="121.90" y="242.98" width="8.60" height="2.40" rx="1.20" fill="#000" fill-opacity="0.25" filter="url(#b1)"/>
<rect x="130.50" y="240.03" width="8.60" height="3.20" rx="1.60" fill="#000" fill-opacity="1.00" filter="url(#b1)"/>
<rect x="130.50" y="243.03" width="8.60" height="2.40" rx="1.20" fill="#000" fill-opacity="0.25" filter="url(#b1)"/>
<rect x="140.10" y="240.09" width="8.60" height="3.20" rx="1.60" fill="#000" fill-opacity="1.00" filter="url(#b1)"/>
<rect x="140.10" y="243.09" width="8.60" height="2.40" rx="1.20" fill="#000" fill-opacity="0.25" filter="url(#b1)"/>
<rect x="148.20" y="240.14" width="8.60" height="3.20" rx="1.60" fill="#000" fill-opacity="1.00" filter="url(#b1)"/>
<rect x="148.20" y="243.14" width="8.60" height="2.40" rx="1.20" fill="#000" fill-opacity="0.25" filter="url(#b1)"/>
<rect x="156.40" y="240.18" width="8.60" height="3.20" rx="1.60" fill="#000" fill-opacity="1.00" filter="url(#b1)"/>
<rect x="156.40" y="243.18" width="8.60" height="2.40" rx="1.20" fill="#000" fill-opacity="0.25" filter="url(#b1)"/>
<rect x="164.90" y="240.24" width="8.60" height="3.20" rx="1.60" fill="#000" fill-opacity="1.00" filter="url(#b1)"/>
<rect x="164.90" y="243.24" width="8.60" height="2.40" rx="1.20" fill="#000" fill-opacity="0.25" filter="url(#b1)"/>
<rect x="173.60" y="240.29" width="8.60" height="3.20" rx="1.60" fill="#000" fill-opacity="1.00" filter="url(#b1)"/>
<rect x="173.60" y="243.29" width="8.60" height="2.40" rx="1.20" fill="#000" fill-opacity="0.25" filter="url(#b1)"/>
<rect x="182.20" y="240.34" width="8.60" height="3.20" rx="1.60" fill="#000" fill-opacity="1.00" filter="url(#b1)"/>
<rect x="182.20" y="243.34" width="8.60" height="2.40" rx="1.20" fill="#000" fill-opacity="0.25" filter="url(#b1)"/>
<rect x="29.80" y="255.32" width="8.60" height="3.40" rx="1.70" fill="#000" fill-opacity="0.95" filter="url(#b1)"/>
<rect x="40.00" y="255.39" width="8.60" height="3.40" rx="1.70" fill="#000" fill-opacity="0.95" filter="url(#b1)"/>
<rect x="49.20" y="255.44" width="8.60" height="3.40" rx="1.70" fill="#000" fill-opacity="0.95" filter="url(#b1)"/>
<rect x="58.30" y="255.50" width="8.60" height="3.40" rx="1.70" fill="#000" fill-opacity="0.95" filter="url(#b1)"/>
<rect x="67.00" y="255.55" width="8.60" height="3.40" rx="1.70" fill="#000" fill-opacity="0.95" filter="url(#b1)"/>
<rect x="76.20" y="255.60" width="8.60" height="3.40" rx="1.70" fill="#000" fill-opacity="0.95" filter="url(#b1)"/>
<rect x="85.10" y="255.66" width="8.60" height="3.40" rx="1.70" fill="#000" fill-opacity="0.95" filter="url(#b1)"/>
<rect x="94.50" y="255.71" width="8.60" height="3.40" rx="1.70" fill="#000" fill-opacity="0.95" filter="url(#b1)"/>
<rect x="103.80" y="255.77" width="8.60" height="3.40" rx="1.70" fill="#000" fill-opacity="0.95" filter="url(#b1)"/>
<rect x="113.10" y="255.82" width="8.60" height="3.40" rx="1.70" fill="#000" fill-opacity="0.95" filter="url(#b1)"/>
<rect x="121.90" y="255.88" width="8.60" height="3.40" rx="1.70" fill="#000" fill-opacity="0.95" filter="url(#b1)"/>
<rect x="130.50" y="255.93" width="8.60" height="3.40" rx="1.70" fill="#000" fill-opacity="0.95" filter="url(#b1)"/>
<rect x="140.10" y="255.99" width="8.60" height="3.40" rx="1.70" fill="#000" fill-opacity="0.95" filter="url(#b1)"/>
<rect x="148.20" y="256.04" width="8.60" height="3.40" rx="1.70" fill="#000" fill-opacity="0.95" filter="url(#b1)"/>
<rect x="156.40" y="256.08" width="8.60" height="3.40" rx="1.70" fill="#000" fill-opacity="0.95" filter="url(#b1)"/>
<rect x="164.90" y="256.14" width="8.60" height="3.40" rx="1.70" fill="#000" fill-opacity="0.95" filter="url(#b1)"/>
<rect x="173.60" y="256.19" width="8.60" height="3.40" rx="1.70" fill="#000" fill-opacity="0.95" filter="url(#b1)"/>
<rect x="182.20" y="256.24" width="8.60" height="3.40" rx="1.70" fill="#000" fill-opacity="0.95" filter="url(#b1)"/>
<text x="57.60" y="271.10" font-size="7.7" text-anchor="middle" font-weight="bold" fill="#111" >6606</text>
<line x1="29.40" y1="272.60" x2="82.40" y2="272.60" stroke="#111" stroke-width="1.5" />
<text x="33.50" y="281.90" font-size="7.7" text-anchor="middle" font-weight="bold" fill="#111" >B</text>
<text x="43.50" y="281.90" font-size="7.7" text-anchor="middle" font-weight="bold" fill="#111" >S</text>
<text x="51.90" y="281.90" font-size="7.7" font-weight="bold" fill="#111" textLength="30.30" lengthAdjust="spacingAndGlyphs">GM-CSF</text>
<line x1="51.90" y1="283.20" x2="82.20" y2="283.20" stroke="#111" stroke-width="1.1" />
<line x1="32.10" y1="290.80" x2="34.90" y2="290.80" stroke="#222" stroke-width="1.1" />
<line x1="42.10" y1="290.80" x2="44.90" y2="290.80" stroke="#222" stroke-width="1.1" />
<line x1="52.40" y1="290.80" x2="55.20" y2="290.80" stroke="#222" stroke-width="1.1" />
<polygon points="60.00,293.50 83.20,286.30 83.20,293.50" fill="#fff" stroke="#111" stroke-width="1.1" stroke-linejoin="miter"/>
<text x="112.30" y="271.10" font-size="7.7" text-anchor="middle" font-weight="bold" fill="#111" >6613</text>
<line x1="85.80" y1="272.60" x2="135.20" y2="272.60" stroke="#111" stroke-width="1.5" />
<text x="88.80" y="281.90" font-size="7.7" text-anchor="middle" font-weight="bold" fill="#111" >B</text>
<text x="96.60" y="281.90" font-size="7.7" text-anchor="middle" font-weight="bold" fill="#111" >S</text>
<text x="104.40" y="281.90" font-size="7.7" font-weight="bold" fill="#111" textLength="30.80" lengthAdjust="spacingAndGlyphs">GM-CSF</text>
<line x1="104.40" y1="283.20" x2="135.20" y2="283.20" stroke="#111" stroke-width="1.1" />
<line x1="87.10" y1="290.80" x2="89.90" y2="290.80" stroke="#222" stroke-width="1.1" />
<line x1="94.80" y1="290.80" x2="97.60" y2="290.80" stroke="#222" stroke-width="1.1" />
<line x1="103.10" y1="290.80" x2="105.90" y2="290.80" stroke="#222" stroke-width="1.1" />
<polygon points="112.30,293.50 135.90,286.30 135.90,293.50" fill="#fff" stroke="#111" stroke-width="1.1" stroke-linejoin="miter"/>
<text x="166.00" y="271.10" font-size="7.7" text-anchor="middle" font-weight="bold" fill="#111" >6695</text>
<line x1="139.00" y1="272.60" x2="188.60" y2="272.60" stroke="#111" stroke-width="1.5" />
<text x="142.40" y="281.90" font-size="7.7" text-anchor="middle" font-weight="bold" fill="#111" >B</text>
<text x="149.90" y="281.90" font-size="7.7" text-anchor="middle" font-weight="bold" fill="#111" >S</text>
<text x="158.50" y="281.90" font-size="7.7" font-weight="bold" fill="#111" textLength="29.70" lengthAdjust="spacingAndGlyphs">GM-CSF</text>
<line x1="158.50" y1="283.20" x2="188.20" y2="283.20" stroke="#111" stroke-width="1.1" />
<line x1="140.60" y1="290.80" x2="143.40" y2="290.80" stroke="#222" stroke-width="1.1" />
<line x1="148.40" y1="290.80" x2="151.20" y2="290.80" stroke="#222" stroke-width="1.1" />
<line x1="156.10" y1="290.80" x2="158.90" y2="290.80" stroke="#222" stroke-width="1.1" />
<polygon points="165.50,293.50 188.10,286.30 188.10,293.50" fill="#fff" stroke="#111" stroke-width="1.1" stroke-linejoin="miter"/>
<text x="25.60" y="293.40" font-size="7.6" text-anchor="end" font-weight="bold" fill="#111" >PD901:</text>
<rect x="27.30" y="294.50" width="164.20" height="15.00" fill="#d2d2d2" />
<rect x="27.30" y="309.50" width="164.20" height="12.00" fill="#d4d4d4" />
<rect x="27.30" y="321.50" width="164.20" height="15.50" fill="#d2d2d2" />
<rect x="27.30" y="337.00" width="164.20" height="14.50" fill="#f0f0f0" />
<rect x="27.30" y="351.50" width="164.20" height="10.80" fill="#fafafa" />
<text x="25.00" y="305.95" font-size="7.6" text-anchor="end" font-weight="bold" fill="#111" >pERK</text>
<text x="25.00" y="319.65" font-size="7.6" text-anchor="end" font-weight="bold" fill="#111" >ERK</text>
<text x="25.00" y="333.35" font-size="7.6" text-anchor="end" font-weight="bold" fill="#111" >pAkt</text>
<text x="25.00" y="346.55" font-size="7.6" text-anchor="end" font-weight="bold" fill="#111" >Akt</text>
<text x="25.00" y="360.65" font-size="7.6" text-anchor="end" font-weight="bold" fill="#111" >Actin</text>
<rect x="28.70" y="298.94" width="8.60" height="2.20" rx="1.10" fill="#000" fill-opacity="0.30" filter="url(#b1)"/>
<rect x="28.70" y="301.94" width="8.60" height="2.20" rx="1.10" fill="#000" fill-opacity="0.28" filter="url(#b1)"/>
<rect x="37.80" y="299.07" width="8.60" height="2.20" rx="1.10" fill="#000" fill-opacity="0.22" filter="url(#b1)"/>
<rect x="37.80" y="302.07" width="8.60" height="2.20" rx="1.10" fill="#000" fill-opacity="0.20" filter="url(#b1)"/>
<rect x="46.60" y="299.19" width="8.60" height="2.20" rx="1.10" fill="#000" fill-opacity="0.90" filter="url(#b1)"/>
<rect x="46.60" y="302.19" width="8.60" height="2.20" rx="1.10" fill="#000" fill-opacity="0.83" filter="url(#b1)"/>
<rect x="55.40" y="299.32" width="8.60" height="2.20" rx="1.10" fill="#000" fill-opacity="0.06" filter="url(#b1)"/>
<rect x="55.40" y="302.32" width="8.60" height="2.20" rx="1.10" fill="#000" fill-opacity="0.06" filter="url(#b1)"/>
<rect x="64.00" y="299.44" width="8.60" height="2.20" rx="1.10" fill="#000" fill-opacity="0.06" filter="url(#b1)"/>
<rect x="64.00" y="302.44" width="8.60" height="2.20" rx="1.10" fill="#000" fill-opacity="0.06" filter="url(#b1)"/>
<rect x="72.70" y="299.56" width="8.60" height="2.20" rx="1.10" fill="#000" fill-opacity="0.06" filter="url(#b1)"/>
<rect x="72.70" y="302.56" width="8.60" height="2.20" rx="1.10" fill="#000" fill-opacity="0.06" filter="url(#b1)"/>
<rect x="81.20" y="299.68" width="8.60" height="2.20" rx="1.10" fill="#000" fill-opacity="0.50" filter="url(#b1)"/>
<rect x="81.20" y="302.68" width="8.60" height="2.20" rx="1.10" fill="#000" fill-opacity="0.46" filter="url(#b1)"/>
<rect x="90.10" y="299.80" width="8.60" height="2.20" rx="1.10" fill="#000" fill-opacity="0.40" filter="url(#b1)"/>
<rect x="90.10" y="302.80" width="8.60" height="2.20" rx="1.10" fill="#000" fill-opacity="0.37" filter="url(#b1)"/>
<rect x="98.40" y="298.82" width="9.60" height="8.40" rx="3" fill="#000" fill-opacity="0.97" filter="url(#b1)"/>
<rect x="99.40" y="300.02" width="7.60" height="1.2" fill="#555" fill-opacity="0.35" filter="url(#b1)"/>
<rect x="107.80" y="300.05" width="8.60" height="2.20" rx="1.10" fill="#000" fill-opacity="0.06" filter="url(#b1)"/>
<rect x="107.80" y="303.05" width="8.60" height="2.20" rx="1.10" fill="#000" fill-opacity="0.06" filter="url(#b1)"/>
<rect x="116.60" y="300.17" width="8.60" height="2.20" rx="1.10" fill="#000" fill-opacity="0.06" filter="url(#b1)"/>
<rect x="116.60" y="303.17" width="8.60" height="2.20" rx="1.10" fill="#000" fill-opacity="0.06" filter="url(#b1)"/>
<rect x="125.50" y="300.30" width="8.60" height="2.20" rx="1.10" fill="#000" fill-opacity="0.06" filter="url(#b1)"/>
<rect x="125.50" y="303.30" width="8.60" height="2.20" rx="1.10" fill="#000" fill-opacity="0.06" filter="url(#b1)"/>
<rect x="134.40" y="300.42" width="8.60" height="2.20" rx="1.10" fill="#000" fill-opacity="0.15" filter="url(#b1)"/>
<rect x="134.40" y="303.42" width="8.60" height="2.20" rx="1.10" fill="#000" fill-opacity="0.14" filter="url(#b1)"/>
<rect x="143.20" y="300.54" width="8.60" height="2.20" rx="1.10" fill="#000" fill-opacity="0.30" filter="url(#b1)"/>
<rect x="143.20" y="303.54" width="8.60" height="2.20" rx="1.10" fill="#000" fill-opacity="0.28" filter="url(#b1)"/>
<rect x="152.60" y="300.68" width="8.60" height="2.20" rx="1.10" fill="#000" fill-opacity="0.85" filter="url(#b1)"/>
<rect x="152.60" y="303.68" width="8.60" height="2.20" rx="1.10" fill="#000" fill-opacity="0.78" filter="url(#b1)"/>
<rect x="161.30" y="300.80" width="8.60" height="2.20" rx="1.10" fill="#000" fill-opacity="0.06" filter="url(#b1)"/>
<rect x="161.30" y="303.80" width="8.60" height="2.20" rx="1.10" fill="#000" fill-opacity="0.06" filter="url(#b1)"/>
<rect x="170.10" y="300.92" width="8.60" height="2.20" rx="1.10" fill="#000" fill-opacity="0.06" filter="url(#b1)"/>
<rect x="170.10" y="303.92" width="8.60" height="2.20" rx="1.10" fill="#000" fill-opacity="0.06" filter="url(#b1)"/>
<rect x="179.20" y="301.05" width="8.60" height="2.20" rx="1.10" fill="#000" fill-opacity="0.06" filter="url(#b1)"/>
<rect x="179.20" y="304.05" width="8.60" height="2.20" rx="1.10" fill="#000" fill-opacity="0.06" filter="url(#b1)"/>
<rect x="28.70" y="312.94" width="8.60" height="2.60" rx="1.30" fill="#000" fill-opacity="0.87" filter="url(#b1)"/>
<rect x="28.70" y="316.24" width="8.60" height="2.80" rx="1.40" fill="#000" fill-opacity="0.92" filter="url(#b1)"/>
<rect x="37.80" y="313.07" width="8.60" height="2.60" rx="1.30" fill="#000" fill-opacity="0.87" filter="url(#b1)"/>
<rect x="37.80" y="316.37" width="8.60" height="2.80" rx="1.40" fill="#000" fill-opacity="0.92" filter="url(#b1)"/>
<rect x="46.60" y="313.19" width="8.60" height="2.60" rx="1.30" fill="#000" fill-opacity="0.87" filter="url(#b1)"/>
<rect x="46.60" y="316.49" width="8.60" height="2.80" rx="1.40" fill="#000" fill-opacity="0.92" filter="url(#b1)"/>
<rect x="55.40" y="313.32" width="8.60" height="2.60" rx="1.30" fill="#000" fill-opacity="0.87" filter="url(#b1)"/>
<rect x="55.40" y="316.62" width="8.60" height="2.80" rx="1.40" fill="#000" fill-opacity="0.92" filter="url(#b1)"/>
<rect x="64.00" y="313.44" width="8.60" height="2.60" rx="1.30" fill="#000" fill-opacity="0.87" filter="url(#b1)"/>
<rect x="64.00" y="316.74" width="8.60" height="2.80" rx="1.40" fill="#000" fill-opacity="0.92" filter="url(#b1)"/>
<rect x="72.70" y="313.56" width="8.60" height="2.60" rx="1.30" fill="#000" fill-opacity="0.87" filter="url(#b1)"/>
<rect x="72.70" y="316.86" width="8.60" height="2.80" rx="1.40" fill="#000" fill-opacity="0.92" filter="url(#b1)"/>
<rect x="81.20" y="313.68" width="8.60" height="2.60" rx="1.30" fill="#000" fill-opacity="0.90" filter="url(#b1)"/>
<rect x="81.20" y="316.98" width="8.60" height="2.80" rx="1.40" fill="#000" fill-opacity="0.95" filter="url(#b1)"/>
<rect x="90.10" y="313.80" width="8.60" height="2.60" rx="1.30" fill="#000" fill-opacity="0.90" filter="url(#b1)"/>
<rect x="90.10" y="317.10" width="8.60" height="2.80" rx="1.40" fill="#000" fill-opacity="0.95" filter="url(#b1)"/>
<rect x="98.90" y="313.92" width="8.60" height="2.60" rx="1.30" fill="#000" fill-opacity="0.90" filter="url(#b1)"/>
<rect x="98.90" y="317.22" width="8.60" height="2.80" rx="1.40" fill="#000" fill-opacity="0.95" filter="url(#b1)"/>
<rect x="107.80" y="314.05" width="8.60" height="2.60" rx="1.30" fill="#000" fill-opacity="0.90" filter="url(#b1)"/>
<rect x="107.80" y="317.35" width="8.60" height="2.80" rx="1.40" fill="#000" fill-opacity="0.95" filter="url(#b1)"/>
<rect x="116.60" y="314.17" width="8.60" height="2.60" rx="1.30" fill="#000" fill-opacity="0.90" filter="url(#b1)"/>
<rect x="116.60" y="317.47" width="8.60" height="2.80" rx="1.40" fill="#000" fill-opacity="0.95" filter="url(#b1)"/>
<rect x="125.50" y="314.30" width="8.60" height="2.60" rx="1.30" fill="#000" fill-opacity="0.90" filter="url(#b1)"/>
<rect x="125.50" y="317.60" width="8.60" height="2.80" rx="1.40" fill="#000" fill-opacity="0.95" filter="url(#b1)"/>
<rect x="134.40" y="314.42" width="8.60" height="2.60" rx="1.30" fill="#000" fill-opacity="0.81" filter="url(#b1)"/>
<rect x="134.40" y="317.72" width="8.60" height="2.80" rx="1.40" fill="#000" fill-opacity="0.85" filter="url(#b1)"/>
<rect x="143.20" y="314.54" width="8.60" height="2.60" rx="1.30" fill="#000" fill-opacity="0.81" filter="url(#b1)"/>
<rect x="143.20" y="317.85" width="8.60" height="2.80" rx="1.40" fill="#000" fill-opacity="0.85" filter="url(#b1)"/>
<rect x="152.60" y="314.68" width="8.60" height="2.60" rx="1.30" fill="#000" fill-opacity="0.81" filter="url(#b1)"/>
<rect x="152.60" y="317.98" width="8.60" height="2.80" rx="1.40" fill="#000" fill-opacity="0.85" filter="url(#b1)"/>
<rect x="161.30" y="314.80" width="8.60" height="2.60" rx="1.30" fill="#000" fill-opacity="0.76" filter="url(#b1)"/>
<rect x="161.30" y="318.10" width="8.60" height="2.80" rx="1.40" fill="#000" fill-opacity="0.80" filter="url(#b1)"/>
<rect x="170.10" y="314.92" width="8.60" height="2.60" rx="1.30" fill="#000" fill-opacity="0.76" filter="url(#b1)"/>
<rect x="170.10" y="318.22" width="8.60" height="2.80" rx="1.40" fill="#000" fill-opacity="0.80" filter="url(#b1)"/>
<rect x="179.20" y="315.05" width="8.60" height="2.60" rx="1.30" fill="#000" fill-opacity="0.68" filter="url(#b1)"/>
<rect x="179.20" y="318.35" width="8.60" height="2.80" rx="1.40" fill="#000" fill-opacity="0.72" filter="url(#b1)"/>
<rect x="28.70" y="329.54" width="8.60" height="3.00" rx="1.50" fill="#000" fill-opacity="0.12" filter="url(#b1)"/>
<rect x="37.80" y="329.67" width="8.60" height="3.00" rx="1.50" fill="#000" fill-opacity="0.06" filter="url(#b1)"/>
<rect x="46.60" y="329.79" width="8.60" height="3.00" rx="1.50" fill="#000" fill-opacity="0.06" filter="url(#b1)"/>
<rect x="55.40" y="329.92" width="8.60" height="3.00" rx="1.50" fill="#000" fill-opacity="0.10" filter="url(#b1)"/>
<rect x="64.00" y="330.04" width="8.60" height="3.00" rx="1.50" fill="#000" fill-opacity="0.08" filter="url(#b1)"/>
<rect x="72.70" y="330.16" width="8.60" height="3.00" rx="1.50" fill="#000" fill-opacity="0.08" filter="url(#b1)"/>
<rect x="81.20" y="330.28" width="8.60" height="3.00" rx="1.50" fill="#000" fill-opacity="0.88" filter="url(#b1)"/>
<rect x="90.10" y="330.40" width="8.60" height="3.00" rx="1.50" fill="#000" fill-opacity="0.90" filter="url(#b1)"/>
<rect x="98.90" y="330.52" width="8.60" height="3.00" rx="1.50" fill="#000" fill-opacity="0.92" filter="url(#b1)"/>
<rect x="107.80" y="330.65" width="8.60" height="3.00" rx="1.50" fill="#000" fill-opacity="0.92" filter="url(#b1)"/>
<rect x="116.60" y="330.77" width="8.60" height="3.00" rx="1.50" fill="#000" fill-opacity="0.92" filter="url(#b1)"/>
<rect x="125.50" y="330.90" width="8.60" height="3.00" rx="1.50" fill="#000" fill-opacity="0.92" filter="url(#b1)"/>
<rect x="134.40" y="331.02" width="8.60" height="3.00" rx="1.50" fill="#000" fill-opacity="0.20" filter="url(#b1)"/>
<rect x="143.20" y="331.14" width="8.60" height="3.00" rx="1.50" fill="#000" fill-opacity="0.15" filter="url(#b1)"/>
<rect x="152.60" y="331.28" width="8.60" height="3.00" rx="1.50" fill="#000" fill-opacity="0.12" filter="url(#b1)"/>
<rect x="161.30" y="331.40" width="8.60" height="3.00" rx="1.50" fill="#000" fill-opacity="0.12" filter="url(#b1)"/>
<rect x="170.10" y="331.52" width="8.60" height="3.00" rx="1.50" fill="#000" fill-opacity="0.10" filter="url(#b1)"/>
<rect x="179.20" y="331.65" width="8.60" height="3.00" rx="1.50" fill="#000" fill-opacity="0.12" filter="url(#b1)"/>
<rect x="28.70" y="342.34" width="8.60" height="3.00" rx="1.50" fill="#000" fill-opacity="0.25" filter="url(#b1)"/>
<rect x="37.80" y="342.47" width="8.60" height="3.00" rx="1.50" fill="#000" fill-opacity="0.15" filter="url(#b1)"/>
<rect x="46.60" y="342.59" width="8.60" height="3.00" rx="1.50" fill="#000" fill-opacity="0.20" filter="url(#b1)"/>
<rect x="55.40" y="342.72" width="8.60" height="3.00" rx="1.50" fill="#000" fill-opacity="0.35" filter="url(#b1)"/>
<rect x="64.00" y="342.84" width="8.60" height="3.00" rx="1.50" fill="#000" fill-opacity="0.15" filter="url(#b1)"/>
<rect x="72.70" y="342.96" width="8.60" height="3.00" rx="1.50" fill="#000" fill-opacity="0.15" filter="url(#b1)"/>
<rect x="81.20" y="343.08" width="8.60" height="3.00" rx="1.50" fill="#000" fill-opacity="0.93" filter="url(#b1)"/>
<rect x="90.10" y="343.20" width="8.60" height="3.00" rx="1.50" fill="#000" fill-opacity="0.93" filter="url(#b1)"/>
<rect x="98.90" y="343.32" width="8.60" height="3.00" rx="1.50" fill="#000" fill-opacity="0.93" filter="url(#b1)"/>
<rect x="107.80" y="343.45" width="8.60" height="3.00" rx="1.50" fill="#000" fill-opacity="0.93" filter="url(#b1)"/>
<rect x="116.60" y="343.57" width="8.60" height="3.00" rx="1.50" fill="#000" fill-opacity="0.93" filter="url(#b1)"/>
<rect x="125.50" y="343.70" width="8.60" height="3.00" rx="1.50" fill="#000" fill-opacity="0.93" filter="url(#b1)"/>
<rect x="134.40" y="343.82" width="8.60" height="3.00" rx="1.50" fill="#000" fill-opacity="0.15" filter="url(#b1)"/>
<rect x="143.20" y="343.94" width="8.60" height="3.00" rx="1.50" fill="#000" fill-opacity="0.12" filter="url(#b1)"/>
<rect x="152.60" y="344.08" width="8.60" height="3.00" rx="1.50" fill="#000" fill-opacity="0.15" filter="url(#b1)"/>
<rect x="161.30" y="344.20" width="8.60" height="3.00" rx="1.50" fill="#000" fill-opacity="0.15" filter="url(#b1)"/>
<rect x="170.10" y="344.32" width="8.60" height="3.00" rx="1.50" fill="#000" fill-opacity="0.12" filter="url(#b1)"/>
<rect x="179.20" y="344.45" width="8.60" height="3.00" rx="1.50" fill="#000" fill-opacity="0.15" filter="url(#b1)"/>
<rect x="28.70" y="356.84" width="8.60" height="2.80" rx="1.40" fill="#000" fill-opacity="0.85" filter="url(#b1)"/>
<rect x="37.80" y="356.97" width="8.60" height="2.80" rx="1.40" fill="#000" fill-opacity="0.85" filter="url(#b1)"/>
<rect x="46.60" y="357.09" width="8.60" height="2.80" rx="1.40" fill="#000" fill-opacity="0.85" filter="url(#b1)"/>
<rect x="55.40" y="357.22" width="8.60" height="2.80" rx="1.40" fill="#000" fill-opacity="0.85" filter="url(#b1)"/>
<rect x="64.00" y="357.34" width="8.60" height="2.80" rx="1.40" fill="#000" fill-opacity="0.85" filter="url(#b1)"/>
<rect x="72.70" y="357.46" width="8.60" height="2.80" rx="1.40" fill="#000" fill-opacity="0.85" filter="url(#b1)"/>
<rect x="81.20" y="357.58" width="8.60" height="2.80" rx="1.40" fill="#000" fill-opacity="0.85" filter="url(#b1)"/>
<rect x="90.10" y="357.70" width="8.60" height="2.80" rx="1.40" fill="#000" fill-opacity="0.85" filter="url(#b1)"/>
<rect x="98.90" y="357.82" width="8.60" height="2.80" rx="1.40" fill="#000" fill-opacity="0.85" filter="url(#b1)"/>
<rect x="107.80" y="357.95" width="8.60" height="2.80" rx="1.40" fill="#000" fill-opacity="0.85" filter="url(#b1)"/>
<rect x="116.60" y="358.07" width="8.60" height="2.80" rx="1.40" fill="#000" fill-opacity="0.85" filter="url(#b1)"/>
<rect x="125.50" y="358.20" width="8.60" height="2.80" rx="1.40" fill="#000" fill-opacity="0.85" filter="url(#b1)"/>
<rect x="134.40" y="358.32" width="8.60" height="2.80" rx="1.40" fill="#000" fill-opacity="0.85" filter="url(#b1)"/>
<rect x="143.20" y="358.44" width="8.60" height="2.80" rx="1.40" fill="#000" fill-opacity="0.85" filter="url(#b1)"/>
<rect x="152.60" y="358.58" width="8.60" height="2.80" rx="1.40" fill="#000" fill-opacity="0.85" filter="url(#b1)"/>
<rect x="161.30" y="358.70" width="8.60" height="2.80" rx="1.40" fill="#000" fill-opacity="0.85" filter="url(#b1)"/>
<rect x="170.10" y="358.82" width="8.60" height="2.80" rx="1.40" fill="#000" fill-opacity="0.85" filter="url(#b1)"/>
<rect x="179.20" y="358.95" width="8.60" height="2.80" rx="1.40" fill="#000" fill-opacity="0.85" filter="url(#b1)"/>
<text x="309.00" y="169.20" font-size="8.0" text-anchor="middle" font-weight="bold" fill="#111" >WT Bone Marrow</text>
<text x="385.80" y="168.80" font-size="7.8" text-anchor="middle" font-weight="bold" fill="#111" >6695</text>
<text x="386.20" y="178.00" font-size="7.3" text-anchor="middle" font-weight="bold" fill="#111" >Vehicle</text>
<text x="470.50" y="168.80" font-size="7.8" text-anchor="middle" font-weight="bold" fill="#111" >6695</text>
<text x="470.50" y="178.00" font-size="7.5" text-anchor="middle" font-weight="bold" fill="#111" >PD901</text>
<defs>
<clipPath id="cp0"><rect x="265.3" y="180.5" width="81.80000000000001" height="80.89999999999998"/></clipPath>
<clipPath id="cp1"><rect x="349.3" y="180.5" width="81.5" height="80.89999999999998"/></clipPath>
<clipPath id="cp2"><rect x="430.8" y="180.5" width="82.99999999999994" height="80.89999999999998"/></clipPath>
<clipPath id="cp3"><rect x="264.8" y="271.8" width="82.39999999999998" height="81.80000000000001"/></clipPath>
<clipPath id="cp4"><rect x="349.5" y="271.8" width="81.69999999999999" height="81.80000000000001"/></clipPath>
<clipPath id="cp5"><rect x="431.2" y="271.8" width="81.80000000000001" height="81.80000000000001"/></clipPath>
</defs>
<line x1="311.40" y1="180.80" x2="311.40" y2="235.00" stroke="#9a9a9a" stroke-width="1.0" />
<line x1="311.40" y1="235.00" x2="347.10" y2="235.00" stroke="#9a9a9a" stroke-width="1.0" />
<line x1="395.50" y1="180.80" x2="395.50" y2="234.70" stroke="#9a9a9a" stroke-width="1.0" />
<line x1="395.50" y1="234.70" x2="430.80" y2="234.70" stroke="#9a9a9a" stroke-width="1.0" />
<line x1="477.60" y1="180.80" x2="477.60" y2="234.70" stroke="#9a9a9a" stroke-width="1.0" />
<line x1="477.60" y1="234.70" x2="514.00" y2="234.70" stroke="#9a9a9a" stroke-width="1.0" />
<line x1="264.80" y1="321.80" x2="347.20" y2="321.80" stroke="#9a9a9a" stroke-width="1.0" />
<line x1="349.70" y1="322.20" x2="431.00" y2="322.20" stroke="#9a9a9a" stroke-width="1.0" />
<line x1="431.00" y1="322.20" x2="513.00" y2="322.20" stroke="#9a9a9a" stroke-width="1.0" />
<path d="M284,229 C282,221 282,213 287,207 C292,203 297,202 302,203" fill="none" stroke="#111" stroke-width="0.8"/>
<path d="M288,231 C288,225 287,219 290,213 C293,209 296,207 300,206" fill="none" stroke="#111" stroke-width="0.8"/>
<path d="M287,237 C292,239 300,237 306,232 C310,229 312,227 315,224" fill="none" stroke="#111" stroke-width="0.8"/>
<path d="M290,230 C294,233 300,232 305,228 C309,225 311,224 313,221" fill="none" stroke="#111" stroke-width="0.8"/>
<path d="M286,213 C287,219 290,224 296,225 C301,225 305,223 308,221" fill="none" stroke="#111" stroke-width="0.8"/>
<path d="M271.50,262.00 C268.75,260.00 270.75,254.00 271.00,250.00 C271.25,246.00 271.83,241.33 273.00,238.00 C274.17,234.67 276.17,231.67 278.00,230.00 C279.83,228.33 282.25,227.50 284.00,228.00 C285.75,228.50 287.67,230.00 288.50,233.00 C289.33,236.00 289.17,241.17 289.00,246.00 C288.83,250.83 290.42,259.33 287.50,262.00 C284.58,264.67 274.25,264.00 271.50,262.00Z" fill="none" stroke="#111" stroke-width="0.75" clip-path="url(#cp0)"/>
<path d="M272.02,261.16 C269.47,259.30 271.33,253.72 271.56,250.00 C271.79,246.28 272.34,241.94 273.42,238.84 C274.50,235.74 276.37,232.95 278.07,231.40 C279.77,229.85 282.02,229.07 283.65,229.54 C285.28,230.00 287.06,231.40 287.83,234.19 C288.61,236.98 288.46,241.78 288.30,246.28 C288.14,250.78 289.62,258.68 286.90,261.16 C284.19,263.64 274.58,263.02 272.02,261.16Z" fill="none" stroke="#111" stroke-width="0.75" clip-path="url(#cp0)"/>
<path d="M272.48,260.44 C270.08,258.70 271.82,253.48 272.04,250.00 C272.26,246.52 272.76,242.46 273.78,239.56 C274.79,236.66 276.53,234.05 278.13,232.60 C279.73,231.15 281.83,230.43 283.35,230.86 C284.87,231.30 286.54,232.60 287.26,235.21 C287.99,237.82 287.84,242.31 287.70,246.52 C287.56,250.73 288.93,258.12 286.39,260.44 C283.86,262.76 274.87,262.18 272.48,260.44Z" fill="#5a5a5a" clip-path="url(#cp0)"/>
<path d="M272.26,260.02 C269.98,258.25 271.96,252.92 272.22,249.49 C272.48,246.05 272.93,242.21 273.82,239.40 C274.72,236.59 276.10,234.05 277.60,232.61 C279.09,231.17 281.27,230.43 282.79,230.78 C284.32,231.13 285.95,232.03 286.75,234.72 C287.55,237.41 287.74,242.68 287.61,246.91 C287.48,251.14 288.50,257.92 285.94,260.11 C283.39,262.29 274.55,261.79 272.26,260.02Z" fill="none" stroke="#111" stroke-width="0.85" clip-path="url(#cp0)"/>
<path d="M273.15,260.14 C270.94,258.54 272.42,253.26 272.69,249.88 C272.96,246.50 273.78,242.54 274.77,239.86 C275.76,237.17 277.33,235.07 278.63,233.75 C279.93,232.43 281.28,231.44 282.57,231.94 C283.86,232.45 285.70,234.29 286.37,236.78 C287.04,239.27 286.68,243.12 286.62,246.90 C286.55,250.68 288.21,257.24 285.97,259.45 C283.72,261.65 275.37,261.73 273.15,260.14Z" fill="none" stroke="#111" stroke-width="0.85" clip-path="url(#cp0)"/>
<path d="M273.58,258.24 C271.48,256.64 272.42,252.49 272.63,249.65 C272.84,246.80 273.93,243.51 274.84,241.15 C275.74,238.80 276.75,236.74 278.05,235.50 C279.34,234.26 281.22,233.31 282.59,233.70 C283.97,234.09 285.72,235.58 286.29,237.83 C286.85,240.07 286.17,243.61 285.99,247.17 C285.82,250.73 287.30,257.37 285.24,259.21 C283.17,261.05 275.68,259.83 273.58,258.24Z" fill="none" stroke="#111" stroke-width="0.85" clip-path="url(#cp0)"/>
<path d="M274.33,257.67 C272.57,256.25 274.19,252.09 274.30,249.54 C274.40,247.00 274.34,244.51 274.94,242.39 C275.55,240.26 276.79,237.90 277.92,236.79 C279.06,235.67 280.47,235.34 281.75,235.68 C283.02,236.03 284.87,236.96 285.59,238.87 C286.30,240.78 286.17,243.94 286.05,247.14 C285.93,250.33 286.80,256.28 284.84,258.03 C282.89,259.79 276.08,259.08 274.33,257.67Z" fill="none" stroke="#111" stroke-width="0.85" clip-path="url(#cp0)"/>
<path d="M274.67,257.03 C273.21,255.94 274.56,252.85 274.69,250.53 C274.81,248.22 274.90,245.13 275.43,243.12 C275.96,241.10 276.77,239.36 277.88,238.44 C279.00,237.52 280.94,237.40 282.13,237.61 C283.31,237.82 284.55,238.01 284.99,239.71 C285.43,241.42 285.02,244.96 284.76,247.84 C284.50,250.73 285.12,255.50 283.44,257.03 C281.76,258.56 276.13,258.11 274.67,257.03Z" fill="none" stroke="#111" stroke-width="0.85" clip-path="url(#cp0)"/>
<path d="M274.70,255.78 C273.23,254.81 274.19,252.38 274.31,250.32 C274.43,248.27 274.76,245.17 275.44,243.46 C276.11,241.74 277.41,240.87 278.35,240.05 C279.29,239.22 280.15,238.24 281.10,238.50 C282.04,238.76 283.42,239.98 284.00,241.62 C284.58,243.26 284.72,245.94 284.58,248.36 C284.44,250.78 284.80,254.90 283.15,256.14 C281.51,257.38 276.18,256.75 274.70,255.78Z" fill="none" stroke="#111" stroke-width="0.85" clip-path="url(#cp0)"/>
<path d="M275.46,255.86 C274.22,254.85 275.87,251.51 275.95,249.58 C276.03,247.65 275.53,245.71 275.91,244.28 C276.29,242.85 277.32,241.73 278.23,240.98 C279.14,240.24 280.62,239.60 281.36,239.82 C282.10,240.03 282.35,240.84 282.68,242.25 C283.01,243.66 283.23,246.05 283.34,248.28 C283.46,250.51 284.68,254.37 283.37,255.63 C282.05,256.89 276.69,256.87 275.46,255.86Z" fill="none" stroke="#111" stroke-width="0.85" clip-path="url(#cp0)"/>
<path d="M276.17,254.70 C275.22,253.92 276.00,250.95 276.17,249.46 C276.34,247.98 276.72,246.89 277.20,245.78 C277.68,244.66 278.47,243.47 279.07,242.76 C279.66,242.05 280.26,241.36 280.77,241.52 C281.28,241.68 281.88,242.63 282.13,243.70 C282.38,244.77 282.32,246.22 282.27,247.96 C282.23,249.70 282.90,253.03 281.88,254.15 C280.86,255.28 277.12,255.48 276.17,254.70Z" fill="none" stroke="#111" stroke-width="0.85" clip-path="url(#cp0)"/>
<path d="M276.48,253.18 C275.46,252.39 275.89,250.76 275.92,249.58 C275.95,248.40 276.30,247.01 276.66,246.12 C277.03,245.23 277.45,244.81 278.12,244.25 C278.79,243.69 280.10,242.71 280.69,242.76 C281.27,242.81 281.44,243.62 281.65,244.55 C281.86,245.47 281.87,246.68 281.94,248.31 C282.00,249.93 282.96,253.50 282.05,254.31 C281.14,255.12 277.51,253.97 276.48,253.18Z" fill="none" stroke="#111" stroke-width="0.85" clip-path="url(#cp0)"/>
<path d="M277.16,252.86 C276.41,252.21 276.55,250.53 276.58,249.52 C276.62,248.52 276.94,247.63 277.37,246.84 C277.80,246.05 278.78,245.06 279.15,244.79 C279.53,244.53 279.27,245.14 279.63,245.26 C279.99,245.38 281.01,244.96 281.31,245.50 C281.62,246.03 281.49,247.15 281.45,248.47 C281.41,249.80 281.79,252.72 281.07,253.45 C280.36,254.19 277.91,253.52 277.16,252.86Z" fill="none" stroke="#111" stroke-width="0.85" clip-path="url(#cp0)"/>
<path d="M278.16,252.28 C277.58,251.86 277.45,250.50 277.35,249.84 C277.26,249.18 277.33,248.77 277.58,248.29 C277.83,247.80 278.52,247.33 278.87,246.93 C279.21,246.54 279.29,245.80 279.65,245.93 C280.00,246.05 280.74,247.07 280.99,247.69 C281.24,248.32 281.15,248.91 281.12,249.69 C281.10,250.46 281.32,251.90 280.83,252.33 C280.33,252.76 278.74,252.69 278.16,252.28Z" fill="none" stroke="#111" stroke-width="0.85" clip-path="url(#cp0)"/>
<ellipse cx="277" cy="249" rx="1.2" ry="0.8" fill="#fff" opacity="0.9"/>
<ellipse cx="281" cy="240" rx="1" ry="0.7" fill="#fff" opacity="0.9"/>
<ellipse cx="276" cy="257" rx="1" ry="0.7" fill="#fff" opacity="0.9"/>
<path d="M289.00,207.00 C289.50,205.17 292.33,203.92 295.00,203.00 C297.67,202.08 301.50,202.00 305.00,201.50 C308.50,201.00 312.83,200.42 316.00,200.00 C319.17,199.58 321.75,198.67 324.00,199.00 C326.25,199.33 328.67,200.00 329.50,202.00 C330.33,204.00 330.25,208.00 329.00,211.00 C327.75,214.00 324.83,217.50 322.00,220.00 C319.17,222.50 314.83,225.17 312.00,226.00 C309.17,226.83 307.17,226.17 305.00,225.00 C302.83,223.83 301.17,220.83 299.00,219.00 C296.83,217.17 293.67,216.00 292.00,214.00 C290.33,212.00 288.50,208.83 289.00,207.00Z" fill="none" stroke="#111" stroke-width="0.75" clip-path="url(#cp0)"/>
<path d="M291.40,207.24 C291.86,205.55 294.47,204.40 296.92,203.56 C299.37,202.72 302.90,202.64 306.12,202.18 C309.34,201.72 313.33,201.18 316.24,200.80 C319.15,200.42 321.53,199.57 323.60,199.88 C325.67,200.19 327.89,200.80 328.66,202.64 C329.43,204.48 329.35,208.16 328.20,210.92 C327.05,213.68 324.37,216.90 321.76,219.20 C319.15,221.50 315.17,223.95 312.56,224.72 C309.95,225.49 308.11,224.87 306.12,223.80 C304.13,222.73 302.59,219.97 300.60,218.28 C298.61,216.59 295.69,215.52 294.16,213.68 C292.63,211.84 290.94,208.93 291.40,207.24Z" fill="none" stroke="#111" stroke-width="0.75" clip-path="url(#cp0)"/>
<path d="M293.20,207.42 C293.63,205.84 296.07,204.77 298.36,203.98 C300.65,203.19 303.95,203.12 306.96,202.69 C309.97,202.26 313.70,201.76 316.42,201.40 C319.14,201.04 321.37,200.25 323.30,200.54 C325.24,200.83 327.31,201.40 328.03,203.12 C328.75,204.84 328.68,208.28 327.60,210.86 C326.53,213.44 324.02,216.45 321.58,218.60 C319.14,220.75 315.42,223.04 312.98,223.76 C310.54,224.48 308.82,223.90 306.96,222.90 C305.10,221.90 303.66,219.32 301.80,217.74 C299.94,216.16 297.21,215.16 295.78,213.44 C294.35,211.72 292.77,209.00 293.20,207.42Z" fill="#404040" clip-path="url(#cp0)"/>
<path d="M292.87,207.44 C293.24,205.71 295.93,204.25 298.19,203.41 C300.44,202.58 303.40,202.72 306.39,202.43 C309.38,202.13 313.22,201.96 316.13,201.63 C319.04,201.31 321.78,200.13 323.85,200.48 C325.92,200.82 327.84,202.00 328.55,203.71 C329.27,205.41 329.36,208.27 328.15,210.70 C326.93,213.13 323.83,216.15 321.24,218.27 C318.66,220.39 314.97,222.55 312.62,223.41 C310.26,224.26 308.84,224.33 307.11,223.38 C305.37,222.43 304.07,219.31 302.21,217.72 C300.35,216.12 297.52,215.51 295.96,213.80 C294.41,212.09 292.50,209.17 292.87,207.44Z" fill="none" stroke="#111" stroke-width="0.85" clip-path="url(#cp0)"/>
<path d="M294.50,207.79 C294.89,206.35 298.03,205.51 300.29,204.74 C302.56,203.97 305.45,203.57 308.10,203.17 C310.75,202.78 313.76,202.62 316.21,202.35 C318.66,202.08 320.84,201.37 322.80,201.56 C324.76,201.75 327.29,201.85 327.97,203.48 C328.65,205.10 327.93,208.98 326.88,211.34 C325.83,213.69 323.99,215.76 321.67,217.60 C319.35,219.44 315.18,221.59 312.95,222.38 C310.72,223.18 310.02,223.17 308.29,222.37 C306.56,221.57 304.29,219.09 302.58,217.59 C300.86,216.10 299.32,215.02 297.98,213.39 C296.63,211.76 294.12,209.23 294.50,207.79Z" fill="none" stroke="#111" stroke-width="0.85" clip-path="url(#cp0)"/>
<path d="M296.62,207.84 C296.90,206.30 298.70,204.90 300.80,204.24 C302.89,203.58 306.54,204.08 309.21,203.89 C311.87,203.70 314.58,203.38 316.81,203.12 C319.05,202.86 320.90,202.20 322.62,202.31 C324.35,202.41 326.58,202.37 327.16,203.73 C327.74,205.10 327.14,208.20 326.10,210.49 C325.06,212.79 323.00,215.63 320.91,217.50 C318.81,219.38 315.65,221.06 313.53,221.74 C311.41,222.42 309.78,222.45 308.20,221.59 C306.61,220.74 305.54,217.97 304.02,216.61 C302.51,215.25 300.35,214.91 299.12,213.45 C297.89,211.98 296.34,209.37 296.62,207.84Z" fill="none" stroke="#111" stroke-width="0.85" clip-path="url(#cp0)"/>
<path d="M298.50,208.46 C298.79,207.22 300.85,206.08 302.68,205.28 C304.52,204.48 307.14,204.05 309.51,203.64 C311.88,203.23 314.84,202.95 316.89,202.82 C318.94,202.69 320.33,202.59 321.80,202.88 C323.28,203.16 325.04,203.22 325.75,204.53 C326.46,205.84 326.89,208.70 326.07,210.75 C325.25,212.80 322.79,215.08 320.83,216.82 C318.87,218.57 316.28,220.65 314.31,221.22 C312.34,221.80 310.54,221.17 309.01,220.27 C307.47,219.38 306.44,217.11 305.10,215.85 C303.76,214.60 302.07,213.96 300.97,212.73 C299.87,211.50 298.22,209.70 298.50,208.46Z" fill="none" stroke="#111" stroke-width="0.85" clip-path="url(#cp0)"/>
<path d="M300.47,208.45 C300.95,207.36 302.95,206.21 304.61,205.59 C306.28,204.97 308.37,205.00 310.46,204.74 C312.54,204.48 315.22,204.28 317.15,204.03 C319.09,203.78 320.65,202.96 322.04,203.22 C323.43,203.48 324.92,204.26 325.48,205.57 C326.05,206.88 326.12,209.35 325.44,211.07 C324.76,212.80 323.18,214.35 321.39,215.91 C319.61,217.47 316.51,219.96 314.73,220.45 C312.95,220.94 312.16,219.69 310.73,218.86 C309.30,218.04 307.64,216.63 306.15,215.51 C304.65,214.39 302.69,213.35 301.75,212.17 C300.80,210.99 300.00,209.55 300.47,208.45Z" fill="none" stroke="#111" stroke-width="0.85" clip-path="url(#cp0)"/>
<path d="M301.69,208.52 C301.98,207.67 304.39,207.06 305.90,206.56 C307.41,206.05 308.81,205.93 310.75,205.50 C312.68,205.07 315.59,204.15 317.51,203.97 C319.43,203.79 321.09,204.05 322.26,204.40 C323.43,204.75 324.17,205.04 324.54,206.06 C324.91,207.09 325.02,208.89 324.48,210.54 C323.93,212.20 322.90,214.61 321.27,216.00 C319.63,217.39 316.36,218.51 314.67,218.88 C312.99,219.25 312.39,218.88 311.18,218.21 C309.97,217.53 308.61,215.91 307.43,214.82 C306.26,213.73 305.10,212.71 304.15,211.66 C303.19,210.61 301.40,209.37 301.69,208.52Z" fill="none" stroke="#111" stroke-width="0.85" clip-path="url(#cp0)"/>
<path d="M304.06,208.43 C304.20,207.44 305.07,206.74 306.42,206.30 C307.77,205.85 310.39,205.88 312.15,205.76 C313.91,205.65 315.36,205.70 316.98,205.58 C318.59,205.47 320.71,205.04 321.85,205.07 C322.98,205.09 323.51,204.76 323.78,205.72 C324.04,206.68 324.04,209.36 323.45,210.83 C322.86,212.31 321.56,213.28 320.22,214.56 C318.88,215.83 316.71,218.05 315.41,218.49 C314.10,218.94 313.52,217.79 312.38,217.21 C311.24,216.63 309.71,215.83 308.58,215.00 C307.45,214.17 306.34,213.34 305.58,212.24 C304.83,211.14 303.93,209.42 304.06,208.43Z" fill="none" stroke="#111" stroke-width="0.85" clip-path="url(#cp0)"/>
<path d="M305.31,208.15 C305.65,207.39 307.50,207.06 308.67,206.83 C309.84,206.60 310.80,206.93 312.33,206.79 C313.86,206.64 316.45,206.16 317.84,205.96 C319.24,205.76 319.82,205.43 320.70,205.59 C321.58,205.75 322.66,206.14 323.10,206.92 C323.54,207.69 323.80,208.91 323.34,210.25 C322.89,211.58 321.67,213.85 320.38,214.91 C319.10,215.97 316.89,216.37 315.64,216.60 C314.39,216.82 313.86,216.79 312.87,216.29 C311.89,215.78 310.78,214.37 309.73,213.55 C308.68,212.74 307.32,212.30 306.58,211.40 C305.84,210.50 304.96,208.91 305.31,208.15Z" fill="none" stroke="#111" stroke-width="0.85" clip-path="url(#cp0)"/>
<path d="M307.37,208.63 C307.58,207.79 309.14,207.46 310.19,207.09 C311.24,206.71 312.43,206.63 313.68,206.38 C314.93,206.14 316.52,205.81 317.68,205.62 C318.83,205.43 319.67,205.01 320.60,205.24 C321.53,205.47 322.97,206.17 323.27,207.02 C323.57,207.87 322.86,209.30 322.43,210.35 C321.99,211.40 321.61,212.39 320.66,213.33 C319.71,214.27 317.89,215.54 316.72,216.00 C315.56,216.46 314.58,216.53 313.67,216.10 C312.77,215.67 312.06,214.10 311.27,213.43 C310.49,212.76 309.61,212.90 308.97,212.10 C308.32,211.30 307.17,209.46 307.37,208.63Z" fill="none" stroke="#111" stroke-width="0.85" clip-path="url(#cp0)"/>
<path d="M309.21,209.44 C309.46,208.79 310.70,208.31 311.57,207.92 C312.43,207.53 313.42,207.36 314.41,207.10 C315.40,206.84 316.56,206.41 317.51,206.36 C318.45,206.30 319.32,206.66 320.08,206.77 C320.85,206.88 321.80,206.38 322.07,207.04 C322.34,207.70 321.98,209.67 321.70,210.73 C321.42,211.79 321.27,212.72 320.40,213.40 C319.54,214.08 317.52,214.59 316.50,214.81 C315.48,215.04 314.99,215.08 314.27,214.75 C313.55,214.42 312.89,213.30 312.19,212.81 C311.49,212.33 310.57,212.40 310.08,211.83 C309.58,211.27 308.96,210.09 309.21,209.44Z" fill="none" stroke="#111" stroke-width="0.85" clip-path="url(#cp0)"/>
<path d="M311.77,209.28 C311.80,208.86 311.89,209.02 312.45,208.74 C313.01,208.46 314.27,207.86 315.13,207.62 C315.99,207.37 316.76,207.34 317.62,207.26 C318.48,207.18 319.64,207.03 320.27,207.14 C320.89,207.25 321.25,207.45 321.37,207.93 C321.49,208.40 321.35,209.22 321.01,209.98 C320.66,210.74 320.02,211.88 319.29,212.48 C318.56,213.08 317.32,213.40 316.63,213.59 C315.94,213.77 315.58,213.78 315.13,213.58 C314.67,213.38 314.38,212.77 313.90,212.38 C313.43,211.98 312.64,211.75 312.28,211.23 C311.92,210.71 311.74,209.69 311.77,209.28Z" fill="none" stroke="#111" stroke-width="0.85" clip-path="url(#cp0)"/>
<path d="M313.26,209.85 C313.30,209.41 313.48,208.72 314.07,208.39 C314.65,208.06 316.01,207.92 316.78,207.88 C317.55,207.84 318.22,208.12 318.67,208.17 C319.11,208.23 318.97,208.14 319.45,208.20 C319.94,208.27 321.27,208.16 321.57,208.55 C321.88,208.95 321.68,210.00 321.28,210.57 C320.88,211.15 319.78,211.52 319.17,212.03 C318.55,212.53 318.04,213.37 317.61,213.60 C317.17,213.83 316.98,213.61 316.57,213.39 C316.15,213.17 315.56,212.66 315.10,212.27 C314.64,211.88 314.13,211.43 313.82,211.03 C313.51,210.63 313.22,210.30 313.26,209.85Z" fill="none" stroke="#111" stroke-width="0.85" clip-path="url(#cp0)"/>
<path d="M314.48,209.02 C314.43,208.79 314.85,208.82 315.20,208.85 C315.55,208.89 315.99,209.23 316.57,209.21 C317.14,209.20 318.10,208.84 318.65,208.75 C319.20,208.66 319.55,208.76 319.85,208.68 C320.15,208.60 320.31,207.99 320.46,208.28 C320.61,208.58 320.93,209.91 320.76,210.44 C320.58,210.96 319.85,211.23 319.42,211.44 C319.00,211.66 318.56,211.66 318.21,211.72 C317.86,211.78 317.74,211.93 317.32,211.80 C316.90,211.68 315.99,211.24 315.69,210.98 C315.38,210.71 315.70,210.53 315.50,210.21 C315.29,209.88 314.53,209.24 314.48,209.02Z" fill="none" stroke="#111" stroke-width="0.85" clip-path="url(#cp0)"/>
<clipPath id="ubclip"><path d="M289.90,207.09 C290.38,205.31 293.13,204.10 295.72,203.21 C298.31,202.32 302.03,202.24 305.42,201.75 C308.81,201.27 313.02,200.70 316.09,200.30 C319.16,199.90 321.67,199.01 323.85,199.33 C326.03,199.65 328.38,200.30 329.19,202.24 C329.99,204.18 329.91,208.06 328.70,210.97 C327.49,213.88 324.66,217.27 321.91,219.70 C319.16,222.12 314.96,224.71 312.21,225.52 C309.46,226.33 307.52,225.68 305.42,224.55 C303.32,223.42 301.70,220.51 299.60,218.73 C297.50,216.95 294.43,215.82 292.81,213.88 C291.19,211.94 289.41,208.87 289.90,207.09Z"/></clipPath>
<g clip-path="url(#ubclip)"><ellipse cx="320" cy="210" rx="10" ry="11" fill="#0a0a0a" opacity="0.8" filter="url(#b15)"/></g>
<ellipse cx="302" cy="211.5" rx="1.6" ry="1.2" fill="#fff" opacity="0.9"/>
<ellipse cx="296" cy="209" rx="0.8" ry="0.6" fill="#fff" opacity="0.9"/>
<ellipse cx="309" cy="216" rx="0.8" ry="0.6" fill="#fff" opacity="0.9"/>
<ellipse cx="318" cy="205" rx="0.7" ry="0.5" fill="#fff" opacity="0.9"/>
<path d="M365.00,214.00 C364.33,212.33 368.00,207.75 371.00,206.00 C374.00,204.25 378.83,203.83 383.00,203.50 C387.17,203.17 392.00,204.08 396.00,204.00 C400.00,203.92 404.25,202.67 407.00,203.00 C409.75,203.33 411.83,204.42 412.50,206.00 C413.17,207.58 412.58,210.92 411.00,212.50 C409.42,214.08 405.50,214.58 403.00,215.50 C400.50,216.42 398.83,217.75 396.00,218.00 C393.17,218.25 389.50,217.33 386.00,217.00 C382.50,216.67 378.50,216.50 375.00,216.00 C371.50,215.50 365.67,215.67 365.00,214.00Z" fill="none" stroke="#111" stroke-width="0.75" clip-path="url(#cp1)"/>
<path d="M367.90,213.60 C367.30,212.10 370.60,207.97 373.30,206.40 C376.00,204.83 380.35,204.45 384.10,204.15 C387.85,203.85 392.20,204.68 395.80,204.60 C399.40,204.52 403.23,203.40 405.70,203.70 C408.17,204.00 410.05,204.97 410.65,206.40 C411.25,207.83 410.73,210.82 409.30,212.25 C407.88,213.68 404.35,214.12 402.10,214.95 C399.85,215.77 398.35,216.97 395.80,217.20 C393.25,217.42 389.95,216.60 386.80,216.30 C383.65,216.00 380.05,215.85 376.90,215.40 C373.75,214.95 368.50,215.10 367.90,213.60Z" fill="none" stroke="#111" stroke-width="0.75" clip-path="url(#cp1)"/>
<path d="M370.80,213.20 C370.27,211.87 373.20,208.20 375.60,206.80 C378.00,205.40 381.87,205.07 385.20,204.80 C388.53,204.53 392.40,205.27 395.60,205.20 C398.80,205.13 402.20,204.13 404.40,204.40 C406.60,204.67 408.27,205.53 408.80,206.80 C409.33,208.07 408.87,210.73 407.60,212.00 C406.33,213.27 403.20,213.67 401.20,214.40 C399.20,215.13 397.87,216.20 395.60,216.40 C393.33,216.60 390.40,215.87 387.60,215.60 C384.80,215.33 381.60,215.20 378.80,214.80 C376.00,214.40 371.33,214.53 370.80,213.20Z" fill="none" stroke="#111" stroke-width="0.75" clip-path="url(#cp1)"/>
<path d="M373.70,212.80 C373.23,211.63 375.80,208.42 377.90,207.20 C380.00,205.97 383.38,205.68 386.30,205.45 C389.22,205.22 392.60,205.86 395.40,205.80 C398.20,205.74 401.18,204.87 403.10,205.10 C405.03,205.33 406.48,206.09 406.95,207.20 C407.42,208.31 407.01,210.64 405.90,211.75 C404.79,212.86 402.05,213.21 400.30,213.85 C398.55,214.49 397.38,215.42 395.40,215.60 C393.42,215.78 390.85,215.13 388.40,214.90 C385.95,214.67 383.15,214.55 380.70,214.20 C378.25,213.85 374.17,213.97 373.70,212.80Z" fill="none" stroke="#111" stroke-width="0.75" clip-path="url(#cp1)"/>
<path d="M376.60,212.40 C376.20,211.40 378.40,208.65 380.20,207.60 C382.00,206.55 384.90,206.30 387.40,206.10 C389.90,205.90 392.80,206.45 395.20,206.40 C397.60,206.35 400.15,205.60 401.80,205.80 C403.45,206.00 404.70,206.65 405.10,207.60 C405.50,208.55 405.15,210.55 404.20,211.50 C403.25,212.45 400.90,212.75 399.40,213.30 C397.90,213.85 396.90,214.65 395.20,214.80 C393.50,214.95 391.30,214.40 389.20,214.20 C387.10,214.00 384.70,213.90 382.60,213.60 C380.50,213.30 377.00,213.40 376.60,212.40Z" fill="none" stroke="#111" stroke-width="0.75" clip-path="url(#cp1)"/>
<path d="M379.50,212.00 C379.17,211.17 381.00,208.88 382.50,208.00 C384.00,207.12 386.42,206.92 388.50,206.75 C390.58,206.58 393.00,207.04 395.00,207.00 C397.00,206.96 399.12,206.33 400.50,206.50 C401.88,206.67 402.92,207.21 403.25,208.00 C403.58,208.79 403.29,210.46 402.50,211.25 C401.71,212.04 399.75,212.29 398.50,212.75 C397.25,213.21 396.42,213.88 395.00,214.00 C393.58,214.12 391.75,213.67 390.00,213.50 C388.25,213.33 386.25,213.25 384.50,213.00 C382.75,212.75 379.83,212.83 379.50,212.00Z" fill="none" stroke="#111" stroke-width="0.75" clip-path="url(#cp1)"/>
<path d="M382.40,211.60 C382.13,210.93 383.60,209.10 384.80,208.40 C386.00,207.70 387.93,207.53 389.60,207.40 C391.27,207.27 393.20,207.63 394.80,207.60 C396.40,207.57 398.10,207.07 399.20,207.20 C400.30,207.33 401.13,207.77 401.40,208.40 C401.67,209.03 401.43,210.37 400.80,211.00 C400.17,211.63 398.60,211.83 397.60,212.20 C396.60,212.57 395.93,213.10 394.80,213.20 C393.67,213.30 392.20,212.93 390.80,212.80 C389.40,212.67 387.80,212.60 386.40,212.40 C385.00,212.20 382.67,212.27 382.40,211.60Z" fill="none" stroke="#111" stroke-width="0.75" clip-path="url(#cp1)"/>
<path d="M385.30,211.20 C385.10,210.70 386.20,209.33 387.10,208.80 C388.00,208.28 389.45,208.15 390.70,208.05 C391.95,207.95 393.40,208.22 394.60,208.20 C395.80,208.17 397.07,207.80 397.90,207.90 C398.72,208.00 399.35,208.33 399.55,208.80 C399.75,209.28 399.58,210.28 399.10,210.75 C398.62,211.22 397.45,211.38 396.70,211.65 C395.95,211.93 395.45,212.33 394.60,212.40 C393.75,212.47 392.65,212.20 391.60,212.10 C390.55,212.00 389.35,211.95 388.30,211.80 C387.25,211.65 385.50,211.70 385.30,211.20Z" fill="none" stroke="#111" stroke-width="0.75" clip-path="url(#cp1)"/>
<ellipse cx="404" cy="209.5" rx="3" ry="2.2" fill="none" stroke="#111" stroke-width="0.8"/>
<path d="M365,248 C367,253 366,257 362,261.5 M388,247 C386,252 384,256 387,261.5 M369,250 C371,254 370,257 367,261 M384,250 C382,254 381,257 383,261 M373,251 C374,255 373,258 372,261" fill="none" stroke="#111" stroke-width="0.8" clip-path="url(#cp1)"/>
<ellipse cx="374" cy="262.2" rx="12" ry="3.3" fill="#111" clip-path="url(#cp1)"/>
<path d="M359.00,228.00 C358.67,224.33 359.67,221.25 361.00,219.00 C362.33,216.75 364.50,215.50 367.00,214.50 C369.50,213.50 372.83,213.25 376.00,213.00 C379.17,212.75 383.17,212.50 386.00,213.00 C388.83,213.50 391.42,214.00 393.00,216.00 C394.58,218.00 395.42,221.50 395.50,225.00 C395.58,228.50 394.75,233.50 393.50,237.00 C392.25,240.50 390.42,243.67 388.00,246.00 C385.58,248.33 382.00,250.42 379.00,251.00 C376.00,251.58 372.67,251.17 370.00,249.50 C367.33,247.83 364.83,244.58 363.00,241.00 C361.17,237.42 359.33,231.67 359.00,228.00Z" fill="none" stroke="#111" stroke-width="0.75" clip-path="url(#cp1)"/>
<path d="M360.02,228.30 C359.71,224.85 360.65,221.96 361.90,219.84 C363.15,217.72 365.19,216.55 367.54,215.61 C369.89,214.67 373.02,214.44 376.00,214.20 C378.98,213.96 382.74,213.73 385.40,214.20 C388.06,214.67 390.49,215.14 391.98,217.02 C393.47,218.90 394.25,222.19 394.33,225.48 C394.41,228.77 393.62,233.47 392.45,236.76 C391.27,240.05 389.55,243.03 387.28,245.22 C385.01,247.41 381.64,249.37 378.82,249.92 C376.00,250.47 372.87,250.08 370.36,248.51 C367.85,246.94 365.50,243.89 363.78,240.52 C362.06,237.15 360.33,231.75 360.02,228.30Z" fill="none" stroke="#111" stroke-width="0.75" clip-path="url(#cp1)"/>
<path d="M360.70,228.50 C360.40,225.20 361.30,222.43 362.50,220.40 C363.70,218.38 365.65,217.25 367.90,216.35 C370.15,215.45 373.15,215.22 376.00,215.00 C378.85,214.78 382.45,214.55 385.00,215.00 C387.55,215.45 389.88,215.90 391.30,217.70 C392.73,219.50 393.48,222.65 393.55,225.80 C393.62,228.95 392.88,233.45 391.75,236.60 C390.62,239.75 388.98,242.60 386.80,244.70 C384.62,246.80 381.40,248.67 378.70,249.20 C376.00,249.72 373.00,249.35 370.60,247.85 C368.20,246.35 365.95,243.42 364.30,240.20 C362.65,236.97 361.00,231.80 360.70,228.50Z" fill="#262626" clip-path="url(#cp1)"/>
<path d="M360.99,229.07 C360.68,225.75 361.34,222.34 362.49,220.26 C363.64,218.18 365.57,217.42 367.87,216.57 C370.18,215.72 373.44,215.49 376.32,215.14 C379.20,214.79 382.75,214.12 385.17,214.49 C387.60,214.87 389.43,215.56 390.88,217.40 C392.32,219.25 393.68,222.46 393.84,225.57 C394.00,228.67 393.09,232.87 391.83,236.01 C390.57,239.16 388.43,242.19 386.27,244.42 C384.12,246.66 381.48,248.90 378.91,249.43 C376.33,249.96 373.24,249.14 370.81,247.60 C368.38,246.05 365.96,243.25 364.32,240.16 C362.68,237.07 361.29,232.39 360.99,229.07Z" fill="none" stroke="#111" stroke-width="0.85" clip-path="url(#cp1)"/>
<path d="M361.59,228.32 C361.31,225.12 362.57,222.55 363.80,220.81 C365.03,219.07 367.03,218.68 368.97,217.89 C370.91,217.10 372.78,216.26 375.42,216.05 C378.07,215.85 382.35,216.28 384.83,216.66 C387.31,217.05 389.09,216.67 390.30,218.36 C391.52,220.04 392.11,223.75 392.13,226.77 C392.15,229.79 391.51,233.60 390.44,236.48 C389.37,239.35 387.60,242.13 385.71,244.01 C383.82,245.90 381.48,247.28 379.08,247.77 C376.68,248.26 373.58,248.25 371.31,246.95 C369.05,245.66 367.10,243.11 365.48,240.00 C363.86,236.90 361.87,231.52 361.59,228.32Z" fill="none" stroke="#111" stroke-width="0.85" clip-path="url(#cp1)"/>
<path d="M362.25,229.53 C361.88,226.52 363.13,223.23 364.13,221.37 C365.14,219.51 366.33,219.11 368.29,218.38 C370.26,217.64 373.41,217.19 375.94,216.96 C378.47,216.74 381.26,216.51 383.47,217.01 C385.68,217.52 387.99,218.32 389.21,219.98 C390.43,221.64 390.64,224.36 390.81,226.98 C390.98,229.60 391.03,232.95 390.23,235.70 C389.43,238.46 387.89,241.65 385.99,243.53 C384.10,245.40 381.33,246.57 378.85,246.97 C376.37,247.36 373.19,247.16 371.11,245.91 C369.02,244.65 367.81,242.16 366.33,239.43 C364.85,236.70 362.61,232.54 362.25,229.53Z" fill="none" stroke="#111" stroke-width="0.85" clip-path="url(#cp1)"/>
<path d="M363.34,229.24 C363.00,226.46 363.78,223.74 364.71,222.17 C365.63,220.60 367.07,220.36 368.91,219.80 C370.75,219.25 373.39,219.12 375.74,218.82 C378.10,218.53 380.92,217.80 383.05,218.02 C385.18,218.24 387.32,218.52 388.51,220.13 C389.70,221.74 390.04,224.97 390.18,227.67 C390.32,230.36 390.19,233.75 389.32,236.31 C388.46,238.88 386.74,241.39 384.98,243.05 C383.21,244.71 380.92,246.03 378.73,246.29 C376.55,246.55 373.86,245.83 371.85,244.59 C369.85,243.34 368.14,241.38 366.72,238.82 C365.30,236.26 363.67,232.01 363.34,229.24Z" fill="none" stroke="#111" stroke-width="0.85" clip-path="url(#cp1)"/>
<path d="M364.74,229.77 C364.39,227.09 364.60,224.57 365.54,222.94 C366.48,221.31 368.65,220.59 370.39,219.97 C372.13,219.35 373.94,219.26 375.97,219.21 C377.99,219.16 380.53,219.36 382.56,219.69 C384.58,220.01 386.98,219.88 388.13,221.15 C389.28,222.42 389.47,224.91 389.45,227.32 C389.42,229.73 388.92,233.24 387.97,235.59 C387.02,237.95 385.47,239.75 383.76,241.43 C382.05,243.12 379.66,245.32 377.69,245.73 C375.72,246.14 373.59,245.00 371.92,243.88 C370.24,242.77 368.84,241.39 367.65,239.04 C366.45,236.68 365.09,232.46 364.74,229.77Z" fill="none" stroke="#111" stroke-width="0.85" clip-path="url(#cp1)"/>
<path d="M365.31,229.44 C364.97,227.13 365.44,225.17 366.26,223.76 C367.07,222.34 368.61,221.54 370.19,220.95 C371.76,220.36 373.66,220.21 375.69,220.21 C377.71,220.21 380.46,220.62 382.33,220.96 C384.21,221.31 385.97,221.09 386.92,222.27 C387.88,223.45 388.11,225.86 388.08,228.03 C388.06,230.20 387.64,233.17 386.79,235.31 C385.94,237.44 384.37,239.44 382.97,240.86 C381.58,242.27 380.22,243.37 378.44,243.80 C376.65,244.24 373.94,244.49 372.25,243.47 C370.57,242.44 369.47,240.00 368.31,237.66 C367.15,235.32 365.66,231.76 365.31,229.44Z" fill="none" stroke="#111" stroke-width="0.85" clip-path="url(#cp1)"/>
<path d="M366.04,229.85 C365.82,227.71 366.43,226.12 367.33,224.96 C368.23,223.79 369.90,223.53 371.41,222.87 C372.93,222.22 374.83,221.20 376.45,221.03 C378.07,220.86 379.52,221.48 381.14,221.85 C382.76,222.23 385.15,222.28 386.16,223.28 C387.18,224.28 387.27,225.75 387.22,227.84 C387.17,229.93 386.51,233.63 385.84,235.79 C385.18,237.96 384.49,239.64 383.23,240.84 C381.97,242.03 380.13,242.77 378.28,242.96 C376.42,243.15 373.72,242.85 372.11,241.99 C370.50,241.13 369.63,239.80 368.62,237.78 C367.60,235.75 366.25,231.99 366.04,229.85Z" fill="none" stroke="#111" stroke-width="0.85" clip-path="url(#cp1)"/>
<path d="M367.77,230.69 C367.61,228.95 367.86,227.30 368.45,226.11 C369.04,224.91 370.15,224.05 371.31,223.53 C372.48,223.02 373.86,223.09 375.45,223.04 C377.03,222.98 379.25,223.04 380.83,223.20 C382.41,223.37 384.14,223.11 384.93,224.01 C385.72,224.91 385.55,226.70 385.60,228.58 C385.64,230.46 385.82,233.53 385.18,235.30 C384.53,237.06 382.98,238.00 381.71,239.18 C380.45,240.36 379.06,242.04 377.57,242.37 C376.08,242.70 374.13,242.14 372.78,241.17 C371.42,240.19 370.26,238.28 369.43,236.53 C368.59,234.79 367.94,232.43 367.77,230.69Z" fill="none" stroke="#111" stroke-width="0.85" clip-path="url(#cp1)"/>
<path d="M367.94,230.65 C367.84,229.06 368.92,227.77 369.65,226.73 C370.38,225.70 371.32,225.00 372.32,224.46 C373.33,223.92 374.21,223.57 375.68,223.50 C377.15,223.43 379.83,223.86 381.15,224.05 C382.47,224.23 382.95,223.69 383.59,224.61 C384.22,225.52 384.91,227.87 384.97,229.53 C385.03,231.19 384.50,232.89 383.95,234.55 C383.41,236.21 382.87,238.46 381.72,239.49 C380.57,240.52 378.50,240.55 377.05,240.72 C375.61,240.89 374.18,241.23 373.05,240.49 C371.91,239.76 371.09,237.96 370.24,236.32 C369.39,234.68 368.04,232.25 367.94,230.65Z" fill="none" stroke="#111" stroke-width="0.85" clip-path="url(#cp1)"/>
<path d="M369.47,231.26 C369.41,229.81 369.36,227.97 369.93,226.98 C370.51,225.98 371.84,225.68 372.92,225.28 C373.99,224.88 375.25,224.59 376.38,224.58 C377.52,224.57 378.67,224.87 379.72,225.21 C380.76,225.56 381.94,225.96 382.64,226.66 C383.34,227.35 383.87,228.07 383.89,229.38 C383.91,230.70 383.23,232.95 382.76,234.52 C382.28,236.09 382.05,237.86 381.06,238.80 C380.06,239.74 378.10,239.92 376.79,240.16 C375.49,240.40 374.31,240.99 373.23,240.25 C372.14,239.51 370.93,237.20 370.31,235.70 C369.68,234.20 369.53,232.72 369.47,231.26Z" fill="none" stroke="#111" stroke-width="0.85" clip-path="url(#cp1)"/>
<path d="M369.52,231.12 C369.39,229.97 370.63,229.23 371.23,228.56 C371.83,227.89 372.25,227.58 373.13,227.12 C374.01,226.66 375.52,225.89 376.52,225.80 C377.52,225.70 378.17,226.41 379.12,226.52 C380.08,226.64 381.60,225.90 382.25,226.49 C382.90,227.08 383.07,228.77 383.02,230.05 C382.98,231.34 382.51,233.05 381.97,234.20 C381.44,235.35 380.67,236.13 379.80,236.95 C378.94,237.77 377.68,238.89 376.79,239.12 C375.89,239.35 375.24,238.94 374.45,238.32 C373.65,237.71 372.83,236.65 372.01,235.45 C371.19,234.25 369.65,232.27 369.52,231.12Z" fill="none" stroke="#111" stroke-width="0.85" clip-path="url(#cp1)"/>
<path d="M370.81,231.91 C370.81,230.86 371.63,229.52 371.96,228.79 C372.29,228.06 372.16,227.71 372.80,227.51 C373.45,227.31 374.88,227.70 375.85,227.60 C376.81,227.51 377.64,226.97 378.58,226.94 C379.52,226.91 380.98,226.74 381.49,227.42 C382.00,228.10 381.65,229.98 381.65,231.01 C381.64,232.05 381.93,232.75 381.48,233.63 C381.04,234.51 379.66,235.58 378.98,236.31 C378.30,237.04 378.13,237.68 377.39,238.02 C376.65,238.36 375.43,238.83 374.53,238.35 C373.62,237.86 372.59,236.16 371.97,235.09 C371.35,234.01 370.81,232.96 370.81,231.91Z" fill="none" stroke="#111" stroke-width="0.85" clip-path="url(#cp1)"/>
<path d="M372.47,231.94 C372.28,231.06 371.92,230.51 372.11,229.90 C372.31,229.29 373.07,228.52 373.62,228.29 C374.17,228.06 374.52,228.50 375.40,228.51 C376.28,228.52 378.03,228.39 378.90,228.36 C379.77,228.33 380.37,227.90 380.61,228.35 C380.86,228.80 380.34,230.02 380.36,231.05 C380.38,232.08 381.02,233.71 380.75,234.50 C380.48,235.30 379.43,235.35 378.74,235.82 C378.06,236.29 377.25,237.19 376.64,237.31 C376.02,237.44 375.64,236.93 375.07,236.58 C374.51,236.23 373.68,235.98 373.24,235.21 C372.81,234.43 372.66,232.82 372.47,231.94Z" fill="none" stroke="#111" stroke-width="0.85" clip-path="url(#cp1)"/>
<path d="M373.24,232.40 C373.16,231.70 373.21,230.70 373.35,230.20 C373.50,229.70 373.62,229.65 374.12,229.41 C374.62,229.18 375.78,228.76 376.34,228.79 C376.90,228.83 377.07,229.51 377.49,229.60 C377.90,229.69 378.58,229.00 378.84,229.33 C379.10,229.66 379.02,230.75 379.05,231.58 C379.08,232.41 379.09,233.58 379.03,234.32 C378.97,235.05 379.14,235.74 378.68,235.99 C378.22,236.24 376.99,235.82 376.27,235.83 C375.56,235.84 374.81,236.29 374.41,236.05 C374.00,235.81 374.04,235.02 373.85,234.42 C373.65,233.81 373.32,233.10 373.24,232.40Z" fill="none" stroke="#111" stroke-width="0.85" clip-path="url(#cp1)"/>
<path d="M373.47,232.25 C373.45,231.86 373.92,231.60 374.19,231.39 C374.47,231.18 374.79,231.25 375.13,231.01 C375.46,230.77 375.77,230.09 376.20,229.95 C376.63,229.80 377.36,230.04 377.71,230.15 C378.06,230.27 378.10,230.40 378.29,230.64 C378.48,230.88 378.87,231.17 378.82,231.60 C378.77,232.03 378.25,232.62 377.97,233.21 C377.69,233.81 377.39,234.83 377.14,235.15 C376.90,235.47 376.83,235.03 376.48,235.13 C376.14,235.23 375.46,235.97 375.10,235.74 C374.73,235.50 374.59,234.30 374.32,233.72 C374.05,233.14 373.49,232.64 373.47,232.25Z" fill="none" stroke="#111" stroke-width="0.85" clip-path="url(#cp1)"/>
<ellipse cx="374" cy="229" rx="1.3" ry="0.9" fill="#fff" opacity="0.9"/>
<ellipse cx="378.5" cy="228.5" rx="1.0" ry="0.9" fill="#fff" opacity="0.9"/>
<ellipse cx="371" cy="236" rx="0.9" ry="0.7" fill="#fff" opacity="0.9"/>
<ellipse cx="383" cy="238" rx="0.9" ry="0.7" fill="#fff" opacity="0.9"/>
<ellipse cx="368" cy="224" rx="0.8" ry="0.6" fill="#fff" opacity="0.9"/>
<path d="M475.00,207.00 C475.50,204.75 480.17,204.92 483.00,204.50 C485.83,204.08 489.67,203.92 492.00,204.50 C494.33,205.08 496.50,206.42 497.00,208.00 C497.50,209.58 496.50,212.58 495.00,214.00 C493.50,215.42 490.50,215.83 488.00,216.50 C485.50,217.17 482.17,219.58 480.00,218.00 C477.83,216.42 474.50,209.25 475.00,207.00Z" fill="none" stroke="#111" stroke-width="0.75" clip-path="url(#cp2)"/>
<path d="M478.36,207.84 C478.72,206.22 482.08,206.34 484.12,206.04 C486.16,205.74 488.92,205.62 490.60,206.04 C492.28,206.46 493.84,207.42 494.20,208.56 C494.56,209.70 493.84,211.86 492.76,212.88 C491.68,213.90 489.52,214.20 487.72,214.68 C485.92,215.16 483.52,216.90 481.96,215.76 C480.40,214.62 478.00,209.46 478.36,207.84Z" fill="none" stroke="#111" stroke-width="0.75" clip-path="url(#cp2)"/>
<ellipse cx="486.5" cy="210.5" rx="2.4" ry="1.8" fill="none" stroke="#111" stroke-width="0.8"/>
<ellipse cx="482.5" cy="226" rx="2" ry="1.6" fill="none" stroke="#111" stroke-width="0.8"/>
<path d="M478,222 C482,220 486,218 490,216" fill="none" stroke="#111" stroke-width="0.8"/>
<path d="M452,247 C454,252 452,256 448,261.5 M474,246 C471,251 471,256 473,261.5 M456,249 C458,253 456,257 454,261 M469,249 C467,253 466,257 468,261" fill="none" stroke="#111" stroke-width="0.8" clip-path="url(#cp2)"/>
<ellipse cx="456" cy="262.2" rx="15" ry="3" fill="#111" clip-path="url(#cp2)"/>
<path d="M444.00,224.00 C443.83,220.50 444.67,216.58 446.00,214.00 C447.33,211.42 449.33,209.80 452.00,208.50 C454.67,207.20 458.67,206.62 462.00,206.20 C465.33,205.78 469.17,205.70 472.00,206.00 C474.83,206.30 477.67,205.67 479.00,208.00 C480.33,210.33 480.00,215.50 480.00,220.00 C480.00,224.50 479.75,230.83 479.00,235.00 C478.25,239.17 477.33,242.50 475.50,245.00 C473.67,247.50 470.75,249.33 468.00,250.00 C465.25,250.67 461.67,250.00 459.00,249.00 C456.33,248.00 454.00,246.33 452.00,244.00 C450.00,241.67 448.33,238.33 447.00,235.00 C445.67,231.67 444.17,227.50 444.00,224.00Z" fill="none" stroke="#111" stroke-width="0.75" clip-path="url(#cp2)"/>
<path d="M445.56,224.00 C445.40,220.71 446.19,217.03 447.44,214.60 C448.69,212.17 450.57,210.65 453.08,209.43 C455.59,208.21 459.35,207.66 462.48,207.27 C465.61,206.88 469.22,206.80 471.88,207.08 C474.54,207.36 477.21,206.77 478.46,208.96 C479.71,211.15 479.40,216.01 479.40,220.24 C479.40,224.47 479.16,230.42 478.46,234.34 C477.75,238.26 476.89,241.39 475.17,243.74 C473.45,246.09 470.70,247.81 468.12,248.44 C465.54,249.07 462.17,248.44 459.66,247.50 C457.15,246.56 454.96,244.99 453.08,242.80 C451.20,240.61 449.63,237.47 448.38,234.34 C447.13,231.21 445.72,227.29 445.56,224.00Z" fill="none" stroke="#111" stroke-width="0.75" clip-path="url(#cp2)"/>
<path d="M446.60,224.00 C446.45,220.85 447.20,217.32 448.40,215.00 C449.60,212.68 451.40,211.22 453.80,210.05 C456.20,208.88 459.80,208.35 462.80,207.98 C465.80,207.60 469.25,207.53 471.80,207.80 C474.35,208.07 476.90,207.50 478.10,209.60 C479.30,211.70 479.00,216.35 479.00,220.40 C479.00,224.45 478.78,230.15 478.10,233.90 C477.43,237.65 476.60,240.65 474.95,242.90 C473.30,245.15 470.67,246.80 468.20,247.40 C465.73,248.00 462.50,247.40 460.10,246.50 C457.70,245.60 455.60,244.10 453.80,242.00 C452.00,239.90 450.50,236.90 449.30,233.90 C448.10,230.90 446.75,227.15 446.60,224.00Z" fill="#606060" clip-path="url(#cp2)"/>
<path d="M446.97,224.18 C446.97,220.98 447.86,216.81 448.99,214.52 C450.12,212.23 451.40,211.44 453.77,210.43 C456.14,209.43 460.30,208.96 463.21,208.48 C466.12,208.00 468.84,207.43 471.25,207.55 C473.65,207.68 476.26,207.07 477.64,209.23 C479.03,211.39 479.41,216.41 479.57,220.50 C479.73,224.59 479.31,230.02 478.62,233.75 C477.92,237.47 477.17,240.51 475.39,242.84 C473.61,245.17 470.37,247.20 467.91,247.73 C465.45,248.26 462.97,246.96 460.63,246.03 C458.30,245.10 455.86,244.19 453.92,242.14 C451.97,240.10 450.12,236.74 448.96,233.74 C447.80,230.75 446.97,227.39 446.97,224.18Z" fill="none" stroke="#111" stroke-width="0.85" clip-path="url(#cp2)"/>
<path d="M447.73,223.64 C447.58,220.63 448.32,217.89 449.55,215.72 C450.77,213.55 452.87,211.77 455.06,210.62 C457.25,209.48 459.89,209.19 462.69,208.84 C465.50,208.49 469.45,208.27 471.89,208.50 C474.33,208.73 476.19,208.17 477.33,210.20 C478.48,212.24 478.80,216.94 478.75,220.70 C478.70,224.46 477.75,229.26 477.04,232.76 C476.33,236.26 475.92,239.60 474.49,241.70 C473.07,243.80 470.84,244.76 468.49,245.35 C466.13,245.94 462.64,246.04 460.36,245.23 C458.07,244.43 456.42,242.45 454.77,240.54 C453.12,238.63 451.62,236.60 450.45,233.78 C449.28,230.97 447.88,226.66 447.73,223.64Z" fill="none" stroke="#111" stroke-width="0.85" clip-path="url(#cp2)"/>
<path d="M449.49,224.08 C449.36,221.33 449.96,218.03 451.11,216.10 C452.26,214.17 454.32,213.56 456.40,212.51 C458.48,211.45 461.02,210.24 463.60,209.75 C466.17,209.27 469.70,209.23 471.83,209.60 C473.97,209.98 475.45,210.06 476.43,212.00 C477.41,213.95 477.63,217.76 477.71,221.26 C477.79,224.77 477.49,229.92 476.91,233.04 C476.33,236.16 475.75,238.09 474.24,239.98 C472.73,241.86 469.97,243.67 467.86,244.34 C465.75,245.01 463.65,244.76 461.59,243.99 C459.52,243.23 457.08,241.65 455.47,239.75 C453.85,237.85 452.90,235.20 451.91,232.59 C450.91,229.97 449.63,226.83 449.49,224.08Z" fill="none" stroke="#111" stroke-width="0.85" clip-path="url(#cp2)"/>
<path d="M450.86,223.74 C450.67,221.37 451.79,219.13 452.75,217.31 C453.70,215.49 454.59,213.76 456.57,212.83 C458.55,211.90 462.19,212.12 464.61,211.74 C467.02,211.37 469.01,210.37 471.08,210.59 C473.14,210.81 475.99,211.39 477.01,213.05 C478.03,214.72 477.18,217.46 477.18,220.58 C477.18,223.71 477.45,228.67 476.99,231.79 C476.54,234.90 475.79,237.51 474.45,239.26 C473.10,241.02 470.95,241.91 468.95,242.31 C466.95,242.71 464.43,242.25 462.42,241.67 C460.42,241.08 458.36,240.50 456.93,238.82 C455.49,237.13 454.85,234.05 453.84,231.54 C452.82,229.03 451.04,226.11 450.86,223.74Z" fill="none" stroke="#111" stroke-width="0.85" clip-path="url(#cp2)"/>
<path d="M452.50,223.88 C452.49,221.52 453.32,219.00 454.18,217.26 C455.04,215.52 455.87,214.22 457.67,213.47 C459.47,212.71 462.81,212.94 464.99,212.73 C467.17,212.52 468.89,212.17 470.77,212.19 C472.65,212.22 475.21,211.43 476.25,212.89 C477.29,214.34 477.04,217.83 477.01,220.90 C476.97,223.97 476.60,228.53 476.06,231.32 C475.52,234.11 475.03,235.97 473.78,237.63 C472.54,239.28 470.44,240.75 468.58,241.26 C466.73,241.77 464.41,241.38 462.65,240.69 C460.90,240.00 459.46,238.67 458.06,237.13 C456.66,235.58 455.17,233.61 454.25,231.40 C453.32,229.19 452.51,226.24 452.50,223.88Z" fill="none" stroke="#111" stroke-width="0.85" clip-path="url(#cp2)"/>
<path d="M454.39,223.68 C454.27,221.54 455.12,219.90 455.92,218.34 C456.71,216.77 457.61,215.23 459.15,214.32 C460.69,213.40 463.23,213.05 465.17,212.85 C467.10,212.65 469.13,212.87 470.75,213.12 C472.38,213.36 474.03,213.01 474.91,214.33 C475.79,215.65 475.90,218.42 476.01,221.05 C476.12,223.68 475.97,227.45 475.56,230.10 C475.16,232.75 474.71,235.44 473.58,236.93 C472.46,238.43 470.51,238.75 468.81,239.07 C467.12,239.39 464.92,239.44 463.40,238.85 C461.89,238.27 460.87,236.84 459.74,235.56 C458.61,234.29 457.52,233.18 456.63,231.20 C455.74,229.22 454.51,225.83 454.39,223.68Z" fill="none" stroke="#111" stroke-width="0.85" clip-path="url(#cp2)"/>
<path d="M456.24,224.38 C456.18,222.65 456.00,220.54 456.67,219.18 C457.34,217.81 458.69,217.04 460.27,216.18 C461.85,215.31 464.32,214.22 466.18,213.99 C468.04,213.76 470.07,214.60 471.43,214.80 C472.79,215.00 473.63,214.08 474.34,215.18 C475.05,216.29 475.54,219.02 475.71,221.43 C475.87,223.85 475.73,227.42 475.34,229.67 C474.94,231.92 474.42,233.43 473.35,234.91 C472.28,236.39 470.53,238.16 468.92,238.54 C467.32,238.93 465.15,237.88 463.71,237.22 C462.27,236.56 461.40,235.86 460.29,234.58 C459.17,233.31 457.70,231.26 457.02,229.56 C456.35,227.86 456.30,226.11 456.24,224.38Z" fill="none" stroke="#111" stroke-width="0.85" clip-path="url(#cp2)"/>
<path d="M457.11,224.52 C457.08,222.99 458.05,220.94 458.70,219.67 C459.34,218.40 459.80,217.60 460.96,216.90 C462.13,216.20 464.00,215.78 465.70,215.49 C467.39,215.21 469.61,215.04 471.12,215.19 C472.64,215.34 474.14,215.16 474.77,216.39 C475.40,217.61 475.05,220.29 474.90,222.54 C474.74,224.79 474.20,227.97 473.85,229.87 C473.50,231.77 473.54,232.90 472.80,233.95 C472.05,235.01 470.65,235.84 469.40,236.20 C468.15,236.55 466.68,236.47 465.31,236.09 C463.94,235.71 462.26,235.12 461.19,233.92 C460.12,232.72 459.57,230.46 458.89,228.89 C458.21,227.33 457.15,226.06 457.11,224.52Z" fill="none" stroke="#111" stroke-width="0.85" clip-path="url(#cp2)"/>
<path d="M459.37,223.46 C459.42,221.92 459.76,220.40 460.30,219.50 C460.84,218.61 461.53,218.53 462.61,218.07 C463.68,217.61 465.41,217.09 466.74,216.72 C468.08,216.35 469.54,215.82 470.62,215.84 C471.69,215.87 472.60,215.79 473.22,216.86 C473.84,217.93 474.24,220.20 474.34,222.24 C474.44,224.28 474.21,227.39 473.80,229.09 C473.38,230.80 472.61,231.62 471.87,232.49 C471.13,233.37 470.52,234.04 469.34,234.35 C468.16,234.65 466.01,234.68 464.78,234.33 C463.55,233.97 462.76,233.16 461.97,232.23 C461.17,231.29 460.44,230.18 460.01,228.72 C459.58,227.26 459.32,224.99 459.37,223.46Z" fill="none" stroke="#111" stroke-width="0.85" clip-path="url(#cp2)"/>
<path d="M460.75,223.65 C460.80,222.37 461.12,221.15 461.51,220.37 C461.90,219.59 462.20,219.48 463.08,218.94 C463.97,218.41 465.62,217.38 466.81,217.17 C468.00,216.96 469.09,217.45 470.23,217.69 C471.38,217.92 473.14,217.81 473.69,218.58 C474.23,219.34 473.65,220.68 473.48,222.28 C473.31,223.87 472.89,226.62 472.65,228.13 C472.42,229.65 472.59,230.52 472.05,231.38 C471.52,232.24 470.37,232.98 469.45,233.29 C468.54,233.61 467.60,233.55 466.56,233.28 C465.53,233.01 464.12,232.56 463.22,231.68 C462.32,230.80 461.58,229.34 461.17,228.00 C460.76,226.66 460.69,224.92 460.75,223.65Z" fill="none" stroke="#111" stroke-width="0.85" clip-path="url(#cp2)"/>
<path d="M462.09,223.69 C461.90,222.70 461.95,222.05 462.27,221.33 C462.59,220.62 463.04,219.93 464.01,219.41 C464.99,218.89 467.09,218.34 468.13,218.23 C469.17,218.12 469.48,218.54 470.24,218.73 C471.00,218.92 472.19,218.76 472.71,219.37 C473.23,219.98 473.42,221.13 473.38,222.41 C473.34,223.69 472.85,225.67 472.47,227.06 C472.09,228.45 471.56,229.93 471.11,230.77 C470.65,231.60 470.57,231.87 469.74,232.06 C468.91,232.25 466.92,232.26 466.11,231.91 C465.30,231.56 465.35,230.74 464.89,229.96 C464.44,229.18 463.86,228.29 463.39,227.24 C462.92,226.20 462.27,224.67 462.09,223.69Z" fill="none" stroke="#111" stroke-width="0.85" clip-path="url(#cp2)"/>
<path d="M463.43,223.53 C463.29,222.63 463.58,221.54 463.92,221.05 C464.26,220.56 464.75,220.73 465.48,220.58 C466.22,220.43 467.44,220.34 468.31,220.14 C469.19,219.95 470.08,219.41 470.73,219.40 C471.39,219.39 471.89,219.47 472.22,220.08 C472.56,220.69 472.80,221.95 472.75,223.07 C472.69,224.19 472.02,225.87 471.88,226.81 C471.73,227.75 472.20,228.23 471.88,228.70 C471.56,229.18 470.78,229.49 469.98,229.66 C469.18,229.82 467.74,229.74 467.07,229.68 C466.41,229.63 466.36,229.88 465.97,229.33 C465.59,228.79 465.20,227.40 464.78,226.43 C464.35,225.46 463.57,224.42 463.43,223.53Z" fill="none" stroke="#111" stroke-width="0.85" clip-path="url(#cp2)"/>
<path d="M465.78,223.79 C465.73,223.32 465.18,223.08 465.37,222.69 C465.56,222.30 466.35,221.66 466.92,221.44 C467.48,221.22 468.19,221.42 468.76,221.37 C469.33,221.33 469.81,221.14 470.32,221.17 C470.84,221.20 471.62,221.15 471.86,221.55 C472.09,221.95 471.75,222.85 471.72,223.55 C471.70,224.25 471.88,225.02 471.70,225.75 C471.52,226.48 471.07,227.36 470.64,227.93 C470.22,228.50 469.64,229.17 469.13,229.17 C468.62,229.17 468.07,228.11 467.59,227.93 C467.12,227.76 466.61,228.51 466.29,228.11 C465.97,227.72 465.76,226.27 465.67,225.55 C465.59,224.83 465.83,224.27 465.78,223.79Z" fill="none" stroke="#111" stroke-width="0.85" clip-path="url(#cp2)"/>
<path d="M466.31,223.45 C466.31,223.10 467.06,223.13 467.35,222.96 C467.64,222.79 467.88,222.59 468.08,222.42 C468.27,222.26 468.19,222.01 468.52,221.97 C468.85,221.94 469.59,222.12 470.08,222.22 C470.57,222.32 471.36,222.26 471.46,222.55 C471.56,222.84 470.66,223.41 470.68,223.96 C470.70,224.51 471.66,225.49 471.58,225.85 C471.50,226.22 470.57,226.05 470.19,226.17 C469.81,226.28 469.48,226.36 469.29,226.56 C469.11,226.76 469.31,227.34 469.10,227.37 C468.88,227.41 468.28,227.18 468.00,226.79 C467.72,226.41 467.68,225.62 467.40,225.06 C467.12,224.51 466.32,223.80 466.31,223.45Z" fill="none" stroke="#111" stroke-width="0.85" clip-path="url(#cp2)"/>
<path d="M461,208 C470,206 476,206.5 478.5,209.5 C480,220 479,236 475,244 C471,248 466,248 462,244 C459,235 459,218 461,208 Z" fill="#0a0a0a" opacity="0.85" filter="url(#b15)" clip-path="url(#cp2)"/>
<ellipse cx="459" cy="218" rx="1.2" ry="0.8" fill="#fff" opacity="0.9"/>
<ellipse cx="455" cy="230" rx="1.0" ry="0.7" fill="#fff" opacity="0.9"/>
<ellipse cx="462" cy="238" rx="1.0" ry="0.7" fill="#fff" opacity="0.9"/>
<ellipse cx="467" cy="222" rx="0.8" ry="0.6" fill="#fff" opacity="0.9"/>
<path d="M289.00,354.00 C283.92,351.67 288.92,344.33 289.50,340.00 C290.08,335.67 291.17,331.67 292.50,328.00 C293.83,324.33 296.33,320.83 297.50,318.00 C298.67,315.17 299.50,313.00 299.50,311.00 C299.50,309.00 297.50,307.58 297.50,306.00 C297.50,304.42 297.92,302.50 299.50,301.50 C301.08,300.50 304.42,300.08 307.00,300.00 C309.58,299.92 312.83,300.17 315.00,301.00 C317.17,301.83 318.83,303.17 320.00,305.00 C321.17,306.83 321.83,309.17 322.00,312.00 C322.17,314.83 321.33,318.17 321.00,322.00 C320.67,325.83 320.17,329.67 320.00,335.00 C319.83,340.33 325.17,350.83 320.00,354.00 C314.83,357.17 294.08,356.33 289.00,354.00Z" fill="none" stroke="#111" stroke-width="0.75" clip-path="url(#cp3)"/>
<path d="M289.27,353.82 C284.64,351.70 289.19,345.02 289.73,341.08 C290.26,337.14 291.24,333.50 292.45,330.16 C293.67,326.82 295.94,323.64 297.00,321.06 C298.07,318.48 298.82,316.51 298.82,314.69 C298.82,312.87 297.00,311.58 297.00,310.14 C297.00,308.70 297.38,306.96 298.82,306.05 C300.27,305.13 303.30,304.76 305.65,304.68 C308.00,304.60 310.96,304.83 312.93,305.59 C314.90,306.35 316.42,307.56 317.48,309.23 C318.54,310.90 319.15,313.02 319.30,315.60 C319.45,318.18 318.69,321.21 318.39,324.70 C318.09,328.19 317.63,331.68 317.48,336.53 C317.33,341.38 322.18,350.94 317.48,353.82 C312.78,356.70 293.90,355.94 289.27,353.82Z" fill="none" stroke="#111" stroke-width="0.75" clip-path="url(#cp3)"/>
<path d="M289.51,353.66 C285.29,351.72 289.44,345.64 289.93,342.04 C290.41,338.44 291.31,335.12 292.42,332.08 C293.52,329.04 295.60,326.13 296.56,323.78 C297.53,321.43 298.23,319.63 298.23,317.97 C298.23,316.31 296.56,315.13 296.56,313.82 C296.56,312.51 296.91,310.91 298.23,310.08 C299.54,309.25 302.31,308.91 304.45,308.84 C306.59,308.77 309.29,308.98 311.09,309.67 C312.89,310.36 314.27,311.47 315.24,312.99 C316.21,314.51 316.76,316.45 316.90,318.80 C317.04,321.15 316.35,323.92 316.07,327.10 C315.79,330.28 315.38,333.46 315.24,337.89 C315.10,342.32 319.53,351.03 315.24,353.66 C310.95,356.29 293.73,355.60 289.51,353.66Z" fill="none" stroke="#111" stroke-width="0.75" clip-path="url(#cp3)"/>
<path d="M289.72,353.52 C285.86,351.75 289.66,346.17 290.10,342.88 C290.54,339.59 291.37,336.55 292.38,333.76 C293.39,330.97 295.29,328.31 296.18,326.16 C297.07,324.01 297.70,322.36 297.70,320.84 C297.70,319.32 296.18,318.24 296.18,317.04 C296.18,315.84 296.50,314.38 297.70,313.62 C298.90,312.86 301.44,312.54 303.40,312.48 C305.36,312.42 307.83,312.61 309.48,313.24 C311.13,313.87 312.39,314.89 313.28,316.28 C314.17,317.67 314.67,319.45 314.80,321.60 C314.93,323.75 314.29,326.29 314.04,329.20 C313.79,332.11 313.41,335.03 313.28,339.08 C313.15,343.13 317.21,351.11 313.28,353.52 C309.35,355.93 293.58,355.29 289.72,353.52Z" fill="none" stroke="#111" stroke-width="0.75" clip-path="url(#cp3)"/>
<path d="M289.93,353.38 C286.42,351.77 289.87,346.71 290.27,343.72 C290.68,340.73 291.43,337.97 292.35,335.44 C293.27,332.91 294.99,330.50 295.80,328.54 C296.60,326.59 297.18,325.09 297.18,323.71 C297.18,322.33 295.80,321.35 295.80,320.26 C295.80,319.17 296.08,317.84 297.18,317.15 C298.27,316.46 300.57,316.18 302.35,316.12 C304.13,316.06 306.38,316.24 307.87,316.81 C309.37,317.38 310.51,318.31 311.32,319.57 C312.12,320.83 312.58,322.44 312.70,324.40 C312.81,326.35 312.24,328.66 312.01,331.30 C311.78,333.94 311.44,336.59 311.32,340.27 C311.20,343.95 314.88,351.19 311.32,353.38 C307.75,355.56 293.44,354.99 289.93,353.38Z" fill="#4a4a4a" clip-path="url(#cp3)"/>
<path d="M289.45,352.90 C285.93,351.29 290.14,346.29 290.58,343.37 C291.03,340.44 291.36,337.87 292.13,335.35 C292.90,332.83 294.42,330.14 295.22,328.25 C296.02,326.35 296.84,325.34 296.91,323.97 C296.98,322.60 295.50,321.18 295.64,320.04 C295.77,318.91 296.54,317.79 297.73,317.16 C298.92,316.53 301.18,316.34 302.77,316.26 C304.37,316.19 305.90,316.10 307.31,316.71 C308.72,317.31 310.38,318.57 311.24,319.90 C312.11,321.22 312.38,322.80 312.52,324.65 C312.65,326.49 312.18,328.44 312.06,330.96 C311.93,333.48 311.81,336.11 311.75,339.78 C311.70,343.45 315.42,350.80 311.70,352.98 C307.99,355.17 292.97,354.50 289.45,352.90Z" fill="none" stroke="#111" stroke-width="0.85" clip-path="url(#cp3)"/>
<path d="M289.50,352.91 C286.34,351.55 290.36,347.65 290.73,344.95 C291.10,342.26 290.93,339.11 291.72,336.75 C292.52,334.38 294.71,332.56 295.48,330.77 C296.26,328.97 296.41,327.22 296.38,325.96 C296.36,324.70 295.29,324.10 295.31,323.19 C295.32,322.27 295.48,321.22 296.48,320.47 C297.47,319.71 299.54,318.78 301.27,318.64 C302.99,318.50 305.50,319.00 306.84,319.61 C308.19,320.23 308.69,321.10 309.31,322.32 C309.93,323.54 310.32,325.12 310.55,326.95 C310.77,328.77 310.75,330.95 310.65,333.29 C310.55,335.64 310.10,337.72 309.93,341.03 C309.77,344.34 313.07,351.16 309.66,353.14 C306.26,355.12 292.65,354.28 289.50,352.91Z" fill="none" stroke="#111" stroke-width="0.85" clip-path="url(#cp3)"/>
<path d="M290.73,352.66 C287.93,351.22 290.81,346.95 291.02,344.47 C291.22,341.99 291.16,339.83 291.94,337.80 C292.71,335.76 294.96,333.80 295.67,332.28 C296.38,330.76 296.34,329.85 296.21,328.68 C296.07,327.51 294.84,326.22 294.87,325.27 C294.90,324.33 295.37,323.56 296.39,323.02 C297.41,322.47 299.54,322.15 301.00,322.02 C302.47,321.88 304.02,321.69 305.16,322.21 C306.30,322.73 307.09,324.01 307.83,325.15 C308.57,326.30 309.50,327.53 309.59,329.09 C309.69,330.65 308.59,332.34 308.42,334.53 C308.25,336.72 308.67,339.14 308.57,342.24 C308.46,345.33 310.76,351.38 307.79,353.11 C304.82,354.85 293.52,354.10 290.73,352.66Z" fill="none" stroke="#111" stroke-width="0.85" clip-path="url(#cp3)"/>
<path d="M290.89,352.74 C288.24,351.53 290.05,347.62 290.32,345.46 C290.59,343.31 291.81,341.77 292.51,339.81 C293.20,337.86 293.95,335.33 294.47,333.74 C294.99,332.15 295.56,331.32 295.63,330.27 C295.71,329.22 294.90,328.30 294.91,327.44 C294.93,326.58 294.81,325.53 295.73,325.11 C296.65,324.70 299.13,324.86 300.45,324.97 C301.76,325.09 302.63,325.41 303.60,325.78 C304.56,326.15 305.43,326.26 306.22,327.19 C307.01,328.12 308.12,329.86 308.33,331.35 C308.54,332.85 307.84,334.19 307.50,336.17 C307.17,338.15 306.55,340.49 306.34,343.24 C306.12,345.99 308.80,351.12 306.23,352.70 C303.65,354.28 293.54,353.94 290.89,352.74Z" fill="none" stroke="#111" stroke-width="0.85" clip-path="url(#cp3)"/>
<path d="M290.46,352.38 C288.08,351.32 290.37,348.65 290.70,346.71 C291.04,344.77 291.79,342.51 292.47,340.72 C293.14,338.93 294.31,337.29 294.74,335.98 C295.18,334.66 295.14,333.74 295.10,332.85 C295.05,331.97 294.32,331.45 294.47,330.67 C294.62,329.89 295.24,328.65 296.01,328.18 C296.79,327.71 298.02,327.94 299.14,327.86 C300.26,327.78 301.67,327.29 302.72,327.70 C303.76,328.12 304.81,329.41 305.43,330.37 C306.05,331.32 306.32,332.15 306.43,333.44 C306.53,334.73 306.24,336.36 306.05,338.12 C305.87,339.87 305.52,341.46 305.33,343.95 C305.14,346.45 307.41,351.69 304.94,353.09 C302.46,354.50 292.83,353.44 290.46,352.38Z" fill="none" stroke="#111" stroke-width="0.85" clip-path="url(#cp3)"/>
<path d="M290.27,352.73 C288.21,351.76 290.95,349.11 291.30,347.28 C291.65,345.44 291.88,343.31 292.36,341.74 C292.84,340.17 293.71,338.98 294.19,337.84 C294.67,336.69 295.21,335.61 295.26,334.88 C295.31,334.14 294.58,334.03 294.49,333.43 C294.41,332.82 294.05,331.75 294.73,331.23 C295.41,330.70 297.43,330.26 298.56,330.29 C299.69,330.32 300.78,331.03 301.53,331.40 C302.28,331.78 302.65,331.82 303.07,332.55 C303.48,333.27 303.79,334.57 304.04,335.74 C304.29,336.91 304.71,338.02 304.56,339.57 C304.41,341.12 303.29,342.78 303.14,345.03 C302.99,347.29 305.81,351.81 303.67,353.09 C301.52,354.37 292.33,353.70 290.27,352.73Z" fill="none" stroke="#111" stroke-width="0.85" clip-path="url(#cp3)"/>
<path d="M290.93,352.89 C289.23,351.99 291.31,349.20 291.49,347.71 C291.68,346.21 291.72,345.19 292.07,343.90 C292.43,342.61 293.22,341.04 293.63,339.98 C294.05,338.92 294.59,338.22 294.57,337.56 C294.55,336.90 293.53,336.73 293.53,336.02 C293.52,335.31 293.93,333.76 294.53,333.29 C295.13,332.81 296.27,333.12 297.13,333.16 C297.99,333.20 298.89,333.18 299.70,333.54 C300.51,333.90 301.50,334.69 301.98,335.32 C302.47,335.95 302.60,336.29 302.62,337.32 C302.64,338.35 302.11,340.06 302.11,341.49 C302.11,342.92 302.67,343.98 302.61,345.91 C302.55,347.84 303.69,351.92 301.74,353.08 C299.80,354.24 292.64,353.78 290.93,352.89Z" fill="none" stroke="#111" stroke-width="0.85" clip-path="url(#cp3)"/>
<path d="M290.96,352.26 C289.43,351.56 290.53,349.91 290.79,348.67 C291.05,347.43 292.05,346.00 292.52,344.84 C293.00,343.68 293.40,342.50 293.64,341.70 C293.88,340.91 293.98,340.65 293.96,340.05 C293.94,339.46 293.38,338.65 293.50,338.14 C293.62,337.62 294.16,337.35 294.67,336.98 C295.18,336.60 295.80,336.06 296.54,335.89 C297.27,335.73 298.34,335.73 299.07,336.00 C299.81,336.26 300.52,336.90 300.94,337.49 C301.36,338.08 301.61,338.68 301.57,339.52 C301.53,340.36 300.88,341.40 300.70,342.55 C300.51,343.71 300.58,344.72 300.45,346.44 C300.33,348.16 301.53,351.91 299.94,352.88 C298.36,353.85 292.48,352.97 290.96,352.26Z" fill="none" stroke="#111" stroke-width="0.85" clip-path="url(#cp3)"/>
<path d="M290.99,352.19 C289.71,351.68 290.96,349.98 291.14,348.98 C291.31,347.97 291.63,347.10 292.04,346.16 C292.44,345.22 293.17,344.00 293.57,343.33 C293.96,342.67 294.51,342.58 294.39,342.18 C294.27,341.77 292.85,341.30 292.84,340.89 C292.84,340.48 293.95,339.97 294.36,339.72 C294.77,339.47 294.73,339.57 295.32,339.40 C295.91,339.22 297.39,338.44 297.91,338.67 C298.43,338.90 298.12,340.29 298.41,340.79 C298.71,341.30 299.63,341.15 299.69,341.70 C299.75,342.25 298.94,343.01 298.77,344.07 C298.60,345.13 298.67,346.75 298.68,348.08 C298.69,349.42 300.10,351.40 298.82,352.08 C297.53,352.77 292.27,352.71 290.99,352.19Z" fill="none" stroke="#111" stroke-width="0.85" clip-path="url(#cp3)"/>
<path d="M291.90,352.74 C290.83,352.29 291.06,350.98 291.11,350.13 C291.17,349.28 291.87,348.37 292.23,347.66 C292.59,346.94 293.01,346.38 293.27,345.84 C293.54,345.30 293.90,344.84 293.81,344.41 C293.71,343.98 292.76,343.59 292.71,343.26 C292.66,342.93 293.14,342.60 293.50,342.44 C293.86,342.29 294.34,342.43 294.85,342.32 C295.36,342.21 296.17,341.76 296.55,341.77 C296.93,341.79 296.93,342.09 297.14,342.40 C297.36,342.72 297.76,343.12 297.84,343.67 C297.92,344.22 297.68,344.89 297.62,345.72 C297.55,346.56 297.47,347.50 297.45,348.68 C297.43,349.87 298.43,352.15 297.51,352.83 C296.58,353.50 292.97,353.19 291.90,352.74Z" fill="none" stroke="#111" stroke-width="0.85" clip-path="url(#cp3)"/>
<path d="M290.99,352.69 C290.30,352.38 291.40,351.00 291.61,350.40 C291.82,349.79 292.10,349.59 292.27,349.05 C292.44,348.51 292.40,347.69 292.62,347.14 C292.84,346.59 293.55,345.99 293.60,345.75 C293.66,345.51 293.12,345.84 292.93,345.72 C292.75,345.61 292.25,345.14 292.48,345.06 C292.72,344.98 293.90,345.18 294.32,345.24 C294.74,345.30 294.75,345.41 295.02,345.44 C295.29,345.47 295.66,345.33 295.93,345.40 C296.21,345.47 296.61,345.42 296.68,345.84 C296.74,346.27 296.48,347.25 296.32,347.95 C296.16,348.65 295.82,349.34 295.73,350.05 C295.63,350.77 296.55,351.81 295.76,352.25 C294.97,352.69 291.68,353.00 290.99,352.69Z" fill="none" stroke="#111" stroke-width="0.85" clip-path="url(#cp3)"/>
<ellipse cx="301.5" cy="303.8" rx="2.2" ry="1.7" fill="none" stroke="#111" stroke-width="0.8"/>
<ellipse cx="298" cy="345" rx="1" ry="0.7" fill="#fff" opacity="0.9"/>
<ellipse cx="305" cy="333" rx="1" ry="0.7" fill="#fff" opacity="0.9"/>
<ellipse cx="303" cy="349" rx="0.8" ry="0.6" fill="#fff" opacity="0.9"/>
<ellipse cx="297" cy="336" rx="0.8" ry="0.6" fill="#fff" opacity="0.9"/>
<path d="M380,318 C381,326 383,333 386,334.5 C389,335 393,330 396,327 C401,324 406,320 410,316" fill="none" stroke="#111" stroke-width="0.8"/>
<path d="M382,320 C383,326 385,330 387,331 C390,331 393,327 396,325" fill="none" stroke="#111" stroke-width="0.8"/>
<path d="M380.00,311.00 C380.83,309.08 382.50,307.58 385.00,306.50 C387.50,305.42 391.50,305.08 395.00,304.50 C398.50,303.92 403.00,303.08 406.00,303.00 C409.00,302.92 411.58,302.83 413.00,304.00 C414.42,305.17 415.17,307.92 414.50,310.00 C413.83,312.08 411.42,314.58 409.00,316.50 C406.58,318.42 403.00,320.00 400.00,321.50 C397.00,323.00 393.67,325.08 391.00,325.50 C388.33,325.92 385.83,325.25 384.00,324.00 C382.17,322.75 380.67,320.17 380.00,318.00 C379.33,315.83 379.17,312.92 380.00,311.00Z" fill="none" stroke="#111" stroke-width="0.75" clip-path="url(#cp4)"/>
<path d="M380.98,311.07 C381.75,309.29 383.31,307.89 385.63,306.88 C387.95,305.88 391.68,305.57 394.93,305.02 C398.19,304.48 402.37,303.71 405.16,303.63 C407.95,303.55 410.35,303.48 411.67,304.56 C412.99,305.64 413.69,308.20 413.06,310.14 C412.44,312.08 410.20,314.40 407.95,316.19 C405.70,317.97 402.37,319.44 399.58,320.83 C396.79,322.23 393.69,324.17 391.21,324.56 C388.73,324.94 386.40,324.32 384.70,323.16 C383.00,322.00 381.60,319.59 380.98,317.58 C380.36,315.56 380.21,312.85 380.98,311.07Z" fill="#262626" clip-path="url(#cp4)"/>
<path d="M381.01,311.39 C381.70,309.54 382.98,307.86 385.28,306.81 C387.59,305.76 391.46,305.66 394.84,305.09 C398.22,304.52 402.68,303.49 405.55,303.38 C408.42,303.27 410.81,303.36 412.06,304.44 C413.32,305.53 413.75,307.81 413.07,309.87 C412.39,311.92 410.18,314.87 407.96,316.75 C405.74,318.64 402.59,319.92 399.77,321.19 C396.94,322.45 393.56,323.99 391.01,324.34 C388.46,324.68 386.10,324.33 384.46,323.26 C382.81,322.19 381.72,319.90 381.14,317.92 C380.57,315.94 380.32,313.25 381.01,311.39Z" fill="none" stroke="#111" stroke-width="0.85" clip-path="url(#cp4)"/>
<path d="M381.27,311.40 C382.04,309.75 384.46,308.30 386.63,307.27 C388.81,306.24 391.46,305.81 394.33,305.24 C397.20,304.66 401.06,303.81 403.85,303.80 C406.63,303.79 409.67,304.04 411.04,305.17 C412.40,306.31 412.61,308.79 412.02,310.61 C411.44,312.42 409.65,314.41 407.54,316.05 C405.43,317.68 402.01,319.12 399.36,320.42 C396.71,321.72 393.93,323.58 391.63,323.86 C389.32,324.14 387.12,323.21 385.52,322.10 C383.92,320.98 382.73,318.95 382.02,317.17 C381.31,315.39 380.50,313.05 381.27,311.40Z" fill="none" stroke="#111" stroke-width="0.85" clip-path="url(#cp4)"/>
<path d="M382.98,310.71 C383.68,309.14 384.30,307.70 386.33,306.99 C388.35,306.27 392.21,306.83 395.14,306.42 C398.07,306.02 401.47,304.65 403.91,304.55 C406.35,304.46 408.65,304.94 409.78,305.86 C410.91,306.79 411.32,308.48 410.68,310.09 C410.04,311.70 407.92,313.96 405.91,315.55 C403.91,317.14 401.00,318.29 398.64,319.61 C396.28,320.93 393.95,323.09 391.74,323.46 C389.53,323.82 386.97,322.98 385.37,321.80 C383.76,320.63 382.51,318.25 382.11,316.40 C381.71,314.55 382.27,312.28 382.98,310.71Z" fill="none" stroke="#111" stroke-width="0.85" clip-path="url(#cp4)"/>
<path d="M383.87,311.34 C384.66,309.82 386.04,308.66 387.75,307.81 C389.47,306.96 391.61,306.58 394.17,306.24 C396.73,305.90 400.67,305.82 403.11,305.78 C405.55,305.73 407.80,305.26 408.83,305.97 C409.85,306.68 409.84,308.51 409.27,310.02 C408.70,311.53 407.29,313.61 405.42,315.03 C403.56,316.45 400.46,317.32 398.08,318.54 C395.70,319.76 393.16,321.84 391.16,322.35 C389.15,322.85 387.40,322.46 386.05,321.56 C384.69,320.66 383.37,318.65 383.01,316.94 C382.64,315.24 383.08,312.86 383.87,311.34Z" fill="none" stroke="#111" stroke-width="0.85" clip-path="url(#cp4)"/>
<path d="M383.89,310.73 C384.61,309.33 386.21,308.61 388.05,307.90 C389.90,307.18 392.69,306.75 394.97,306.45 C397.25,306.15 399.67,306.04 401.74,306.12 C403.81,306.19 406.25,306.24 407.37,306.91 C408.48,307.57 408.90,308.71 408.42,310.12 C407.94,311.53 406.23,313.86 404.50,315.36 C402.78,316.85 400.24,317.99 398.09,319.07 C395.95,320.16 393.42,321.77 391.63,321.87 C389.85,321.98 388.67,320.62 387.36,319.69 C386.05,318.77 384.34,317.81 383.76,316.32 C383.18,314.83 383.18,312.14 383.89,310.73Z" fill="none" stroke="#111" stroke-width="0.85" clip-path="url(#cp4)"/>
<path d="M385.56,310.87 C385.96,309.65 386.66,309.34 388.10,308.81 C389.55,308.28 391.99,308.21 394.23,307.71 C396.47,307.21 399.61,305.91 401.54,305.80 C403.47,305.69 404.93,306.19 405.81,307.05 C406.69,307.91 407.31,309.60 406.84,310.95 C406.38,312.31 404.56,313.99 403.02,315.19 C401.49,316.39 399.41,317.29 397.62,318.16 C395.82,319.03 393.94,320.12 392.27,320.41 C390.59,320.70 388.65,320.62 387.56,319.90 C386.47,319.19 386.05,317.63 385.71,316.12 C385.38,314.62 385.16,312.08 385.56,310.87Z" fill="none" stroke="#111" stroke-width="0.85" clip-path="url(#cp4)"/>
<path d="M386.10,311.18 C386.59,310.23 386.89,309.94 388.34,309.43 C389.80,308.92 392.76,308.52 394.81,308.12 C396.86,307.71 398.87,307.04 400.64,307.00 C402.40,306.95 404.54,307.23 405.40,307.84 C406.26,308.44 406.30,309.43 405.81,310.63 C405.32,311.83 403.89,313.86 402.46,315.03 C401.04,316.20 398.95,316.78 397.27,317.64 C395.60,318.49 393.85,320.01 392.41,320.17 C390.98,320.33 389.83,319.42 388.67,318.58 C387.50,317.74 385.85,316.37 385.42,315.14 C384.99,313.90 385.61,312.13 386.10,311.18Z" fill="none" stroke="#111" stroke-width="0.85" clip-path="url(#cp4)"/>
<path d="M386.77,311.59 C387.17,310.75 388.59,310.16 389.79,309.66 C390.99,309.16 392.18,308.88 393.96,308.57 C395.74,308.27 398.86,308.01 400.49,307.85 C402.13,307.70 403.05,307.07 403.78,307.65 C404.51,308.23 405.19,310.16 404.88,311.35 C404.56,312.54 403.20,313.96 401.87,314.79 C400.54,315.62 398.43,315.61 396.88,316.35 C395.32,317.09 393.92,318.90 392.53,319.24 C391.15,319.59 389.40,319.17 388.54,318.42 C387.68,317.67 387.67,315.88 387.38,314.74 C387.08,313.60 386.37,312.44 386.77,311.59Z" fill="none" stroke="#111" stroke-width="0.85" clip-path="url(#cp4)"/>
<path d="M387.83,311.76 C388.26,310.80 388.85,309.65 389.91,309.17 C390.96,308.70 392.52,309.14 394.16,308.93 C395.80,308.71 398.43,307.93 399.75,307.90 C401.07,307.88 401.42,308.29 402.06,308.77 C402.69,309.25 403.75,309.82 403.55,310.78 C403.35,311.74 401.91,313.58 400.85,314.50 C399.78,315.42 398.53,315.69 397.16,316.30 C395.79,316.91 393.96,318.06 392.62,318.18 C391.28,318.30 390.01,317.57 389.13,317.03 C388.24,316.49 387.53,315.82 387.32,314.94 C387.10,314.06 387.40,312.72 387.83,311.76Z" fill="none" stroke="#111" stroke-width="0.85" clip-path="url(#cp4)"/>
<path d="M388.38,311.69 C388.67,310.99 389.44,310.40 390.37,309.88 C391.31,309.35 392.48,308.78 393.97,308.53 C395.45,308.27 398.12,308.25 399.28,308.34 C400.44,308.42 400.43,308.63 400.94,309.04 C401.45,309.45 402.50,310.05 402.34,310.81 C402.18,311.56 400.96,312.85 399.97,313.57 C398.97,314.29 397.65,314.42 396.36,315.13 C395.08,315.84 393.24,317.60 392.27,317.85 C391.30,318.11 391.15,317.30 390.54,316.66 C389.93,316.03 388.98,314.88 388.62,314.05 C388.26,313.22 388.08,312.38 388.38,311.69Z" fill="none" stroke="#111" stroke-width="0.85" clip-path="url(#cp4)"/>
<path d="M389.72,311.58 C390.16,310.91 390.73,310.76 391.57,310.51 C392.40,310.26 393.70,310.42 394.71,310.08 C395.73,309.74 396.80,308.66 397.66,308.48 C398.53,308.29 399.48,308.59 399.91,308.98 C400.34,309.36 400.41,309.98 400.27,310.80 C400.12,311.63 399.74,313.12 399.02,313.93 C398.30,314.74 396.85,315.34 395.93,315.67 C395.01,316.01 394.35,315.90 393.50,315.93 C392.65,315.96 391.58,316.07 390.82,315.84 C390.05,315.60 389.11,315.24 388.92,314.53 C388.74,313.82 389.27,312.25 389.72,311.58Z" fill="none" stroke="#111" stroke-width="0.85" clip-path="url(#cp4)"/>
<path d="M389.93,311.81 C390.15,311.28 390.98,311.39 391.74,311.06 C392.50,310.74 393.57,310.16 394.47,309.85 C395.38,309.53 396.31,309.06 397.18,309.16 C398.05,309.26 399.35,310.14 399.69,310.43 C400.03,310.72 399.52,310.47 399.20,310.91 C398.88,311.34 398.27,312.35 397.76,313.04 C397.24,313.73 396.80,314.71 396.10,315.05 C395.41,315.39 394.34,315.03 393.59,315.10 C392.85,315.17 392.18,315.64 391.64,315.49 C391.11,315.34 390.68,314.82 390.40,314.20 C390.11,313.59 389.70,312.33 389.93,311.81Z" fill="none" stroke="#111" stroke-width="0.85" clip-path="url(#cp4)"/>
<path d="M390.53,311.36 C390.85,310.96 391.77,311.57 392.42,311.37 C393.07,311.18 393.72,310.34 394.42,310.18 C395.12,310.02 396.11,310.43 396.63,310.42 C397.15,310.41 397.29,309.99 397.52,310.11 C397.75,310.23 398.08,310.72 398.01,311.13 C397.95,311.54 397.64,312.14 397.13,312.55 C396.62,312.95 395.54,313.28 394.95,313.57 C394.36,313.85 394.05,314.15 393.58,314.25 C393.12,314.35 392.67,314.23 392.16,314.15 C391.65,314.07 390.78,314.24 390.50,313.77 C390.23,313.31 390.21,311.76 390.53,311.36Z" fill="none" stroke="#111" stroke-width="0.85" clip-path="url(#cp4)"/>
<path d="M391.56,312.37 C391.83,312.09 392.73,311.90 393.09,311.64 C393.45,311.38 393.35,310.89 393.72,310.81 C394.09,310.73 394.73,311.14 395.32,311.16 C395.91,311.19 396.98,310.90 397.26,310.95 C397.54,311.01 397.12,311.23 397.02,311.51 C396.91,311.79 396.97,312.40 396.64,312.65 C396.31,312.90 395.62,312.86 395.05,313.00 C394.48,313.14 393.60,313.35 393.22,313.49 C392.83,313.64 393.05,313.89 392.76,313.86 C392.47,313.84 391.67,313.59 391.47,313.34 C391.28,313.10 391.30,312.65 391.56,312.37Z" fill="none" stroke="#111" stroke-width="0.85" clip-path="url(#cp4)"/>
<ellipse cx="393" cy="311" rx="0.9" ry="0.6" fill="#fff" opacity="0.9"/>
<path d="M463,320 C464,330 467,340 470,343 C473,343 475,337 476,331 C477,326 478,322 480,320" fill="none" stroke="#111" stroke-width="0.8"/>
<path d="M465,322 C466,330 468,336 470,338 C472,338 474,333 475,328 M467,324 C468,329 469,332 470,333 C471,333 472,330 473,326" fill="none" stroke="#111" stroke-width="0.8"/>
<path d="M465.5,353.5 C465.5,350 468,349 471,349 C474,349 476.5,350 476.5,353.5 Z" fill="#444"/>
<path d="M467.5,353.5 C467.5,351.5 469,351 471,351 C473,351 474.5,351.5 474.5,353.5" fill="none" stroke="#ddd" stroke-width="0.5"/>
<path d="M462.00,312.00 C462.67,310.00 463.67,308.25 466.00,307.00 C468.33,305.75 472.33,305.17 476.00,304.50 C479.67,303.83 484.83,302.92 488.00,303.00 C491.17,303.08 493.92,303.58 495.00,305.00 C496.08,306.42 495.83,309.50 494.50,311.50 C493.17,313.50 489.58,315.58 487.00,317.00 C484.42,318.42 481.33,318.67 479.00,320.00 C476.67,321.33 475.17,324.17 473.00,325.00 C470.83,325.83 467.83,326.00 466.00,325.00 C464.17,324.00 462.67,321.17 462.00,319.00 C461.33,316.83 461.33,314.00 462.00,312.00Z" fill="none" stroke="#111" stroke-width="0.75" clip-path="url(#cp5)"/>
<path d="M462.98,312.00 C463.60,310.14 464.53,308.51 466.70,307.35 C468.87,306.19 472.59,305.64 476.00,305.02 C479.41,304.40 484.22,303.55 487.16,303.63 C490.11,303.71 492.66,304.17 493.67,305.49 C494.68,306.81 494.44,309.68 493.20,311.54 C491.96,313.40 488.63,315.33 486.23,316.65 C483.83,317.97 480.96,318.20 478.79,319.44 C476.62,320.68 475.22,323.31 473.21,324.09 C471.19,324.86 468.40,325.02 466.70,324.09 C465.00,323.16 463.60,320.52 462.98,318.51 C462.36,316.50 462.36,313.86 462.98,312.00Z" fill="#262626" clip-path="url(#cp5)"/>
<path d="M462.70,311.89 C463.28,309.89 464.00,308.25 466.29,307.08 C468.57,305.90 473.00,305.40 476.41,304.83 C479.82,304.25 483.92,303.43 486.76,303.62 C489.60,303.81 492.45,304.56 493.45,305.97 C494.45,307.39 494.03,310.25 492.74,312.11 C491.45,313.97 487.99,315.96 485.70,317.12 C483.41,318.29 481.08,317.98 478.99,319.09 C476.91,320.21 475.28,323.06 473.18,323.83 C471.09,324.61 468.14,324.52 466.41,323.73 C464.68,322.94 463.44,321.07 462.82,319.10 C462.20,317.13 462.12,313.90 462.70,311.89Z" fill="none" stroke="#111" stroke-width="0.85" clip-path="url(#cp5)"/>
<path d="M464.42,312.51 C464.90,310.80 464.81,308.66 466.82,307.40 C468.83,306.14 473.16,305.52 476.48,304.94 C479.79,304.36 483.94,303.86 486.71,303.92 C489.48,303.99 492.15,304.09 493.10,305.33 C494.06,306.57 493.79,309.64 492.46,311.37 C491.14,313.11 487.38,314.48 485.14,315.75 C482.90,317.02 481.03,317.75 479.01,318.99 C476.99,320.24 474.88,322.57 473.01,323.23 C471.14,323.90 469.31,323.90 467.79,322.97 C466.28,322.04 464.47,319.40 463.91,317.66 C463.34,315.91 463.93,314.22 464.42,312.51Z" fill="none" stroke="#111" stroke-width="0.85" clip-path="url(#cp5)"/>
<path d="M464.28,312.32 C464.80,310.68 466.28,308.74 468.15,307.59 C470.02,306.44 472.55,305.91 475.50,305.43 C478.44,304.95 483.25,304.61 485.85,304.70 C488.45,304.80 490.24,304.79 491.12,305.98 C492.00,307.17 492.09,310.15 491.12,311.84 C490.15,313.54 487.46,315.13 485.28,316.15 C483.11,317.17 479.98,316.91 478.07,317.96 C476.17,319.00 475.50,321.75 473.85,322.42 C472.20,323.09 469.64,322.82 468.17,322.00 C466.70,321.17 465.68,319.08 465.03,317.47 C464.38,315.86 463.76,313.97 464.28,312.32Z" fill="none" stroke="#111" stroke-width="0.85" clip-path="url(#cp5)"/>
<path d="M465.91,312.44 C466.35,310.77 466.73,308.68 468.49,307.67 C470.26,306.65 473.67,306.80 476.49,306.35 C479.32,305.90 483.22,304.84 485.45,304.97 C487.68,305.10 489.16,306.11 489.87,307.15 C490.58,308.19 490.68,309.77 489.72,311.22 C488.75,312.67 486.11,314.73 484.10,315.86 C482.09,317.00 479.39,317.04 477.66,318.02 C475.92,319.01 475.29,321.10 473.68,321.77 C472.08,322.43 469.35,322.69 468.04,322.01 C466.74,321.33 466.24,319.28 465.88,317.69 C465.52,316.09 465.47,314.11 465.91,312.44Z" fill="none" stroke="#111" stroke-width="0.85" clip-path="url(#cp5)"/>
<path d="M466.13,312.25 C466.52,310.98 467.40,309.68 468.96,308.85 C470.52,308.02 472.83,307.78 475.47,307.27 C478.12,306.76 482.55,305.79 484.82,305.78 C487.10,305.77 488.46,306.32 489.13,307.21 C489.79,308.09 489.64,309.76 488.81,311.08 C487.98,312.40 486.00,314.12 484.15,315.12 C482.30,316.11 479.44,316.00 477.69,317.04 C475.94,318.08 475.16,320.78 473.63,321.35 C472.11,321.92 469.71,321.30 468.54,320.49 C467.36,319.67 466.98,317.84 466.58,316.46 C466.18,315.09 465.73,313.52 466.13,312.25Z" fill="none" stroke="#111" stroke-width="0.85" clip-path="url(#cp5)"/>
<path d="M466.60,312.12 C466.99,310.93 468.18,309.76 469.79,308.88 C471.40,307.99 473.87,307.18 476.24,306.80 C478.61,306.42 482.14,306.53 484.00,306.59 C485.87,306.65 486.82,306.29 487.42,307.14 C488.03,307.99 488.44,310.43 487.65,311.69 C486.85,312.95 484.31,313.88 482.67,314.70 C481.02,315.52 479.18,315.62 477.78,316.60 C476.37,317.59 475.64,320.01 474.22,320.62 C472.80,321.24 470.40,321.05 469.28,320.28 C468.15,319.51 467.92,317.37 467.48,316.01 C467.03,314.65 466.22,313.31 466.60,312.12Z" fill="none" stroke="#111" stroke-width="0.85" clip-path="url(#cp5)"/>
<path d="M468.41,312.53 C468.68,311.28 468.83,309.85 470.17,309.05 C471.50,308.26 474.32,308.03 476.41,307.76 C478.50,307.48 480.92,307.39 482.71,307.40 C484.51,307.41 486.58,307.13 487.16,307.82 C487.75,308.50 487.06,310.25 486.23,311.52 C485.41,312.79 483.55,314.50 482.19,315.43 C480.83,316.35 479.33,316.32 478.08,317.06 C476.82,317.79 476.05,319.43 474.67,319.83 C473.28,320.22 470.78,319.98 469.76,319.43 C468.75,318.88 468.79,317.66 468.57,316.51 C468.34,315.36 468.15,313.77 468.41,312.53Z" fill="none" stroke="#111" stroke-width="0.85" clip-path="url(#cp5)"/>
<path d="M468.56,311.91 C468.89,310.90 469.81,310.00 471.06,309.29 C472.31,308.58 474.21,307.97 476.04,307.66 C477.87,307.35 480.53,307.36 482.04,307.42 C483.55,307.47 484.46,307.22 485.11,308.00 C485.77,308.77 486.50,310.96 486.00,312.08 C485.50,313.20 483.48,313.97 482.13,314.71 C480.78,315.45 479.10,315.98 477.90,316.54 C476.70,317.10 476.07,317.77 474.93,318.07 C473.79,318.37 472.05,318.81 471.07,318.35 C470.09,317.89 469.49,316.37 469.07,315.30 C468.66,314.22 468.23,312.91 468.56,311.91Z" fill="none" stroke="#111" stroke-width="0.85" clip-path="url(#cp5)"/>
<path d="M469.75,312.51 C470.12,311.58 470.60,310.11 471.65,309.45 C472.69,308.79 474.31,308.84 476.02,308.55 C477.74,308.25 480.56,307.61 481.94,307.70 C483.32,307.78 484.00,308.33 484.32,309.03 C484.64,309.73 484.34,311.01 483.87,311.89 C483.40,312.76 482.63,313.65 481.50,314.27 C480.36,314.88 478.21,315.03 477.07,315.56 C475.94,316.09 475.69,317.12 474.69,317.43 C473.69,317.74 471.92,317.81 471.05,317.41 C470.18,317.01 469.67,315.85 469.45,315.04 C469.24,314.22 469.39,313.44 469.75,312.51Z" fill="none" stroke="#111" stroke-width="0.85" clip-path="url(#cp5)"/>
<path d="M470.29,311.69 C470.56,310.95 470.59,310.52 471.61,310.11 C472.63,309.69 474.88,309.45 476.41,309.21 C477.93,308.97 479.66,308.62 480.76,308.67 C481.87,308.72 482.65,308.99 483.05,309.52 C483.45,310.05 483.61,311.13 483.17,311.86 C482.73,312.59 481.46,313.42 480.43,313.91 C479.39,314.40 477.93,314.28 476.94,314.81 C475.95,315.34 475.33,316.69 474.50,317.08 C473.67,317.48 472.72,317.59 471.96,317.17 C471.20,316.75 470.23,315.47 469.95,314.55 C469.68,313.64 470.01,312.43 470.29,311.69Z" fill="none" stroke="#111" stroke-width="0.85" clip-path="url(#cp5)"/>
<path d="M471.81,311.69 C472.11,311.06 472.11,310.60 472.77,310.34 C473.42,310.08 474.58,310.27 475.74,310.11 C476.90,309.95 478.69,309.51 479.71,309.36 C480.73,309.20 481.39,308.77 481.86,309.17 C482.33,309.57 483.01,311.04 482.55,311.76 C482.09,312.49 480.04,312.99 479.10,313.52 C478.17,314.04 477.68,314.52 476.92,314.92 C476.16,315.33 475.15,315.68 474.54,315.96 C473.93,316.24 473.85,316.88 473.25,316.58 C472.66,316.27 471.20,314.93 470.97,314.11 C470.73,313.30 471.51,312.32 471.81,311.69Z" fill="none" stroke="#111" stroke-width="0.85" clip-path="url(#cp5)"/>
<path d="M472.04,312.21 C472.23,311.76 472.72,311.44 473.44,311.07 C474.16,310.70 475.37,310.20 476.39,310.00 C477.40,309.79 478.68,309.85 479.53,309.86 C480.37,309.88 481.14,309.70 481.44,310.08 C481.74,310.46 481.67,311.64 481.34,312.12 C481.01,312.59 480.15,312.66 479.47,312.90 C478.79,313.14 477.91,313.11 477.25,313.57 C476.60,314.02 476.17,315.20 475.51,315.61 C474.85,316.03 473.83,316.37 473.30,316.07 C472.76,315.76 472.52,314.43 472.31,313.79 C472.10,313.15 471.85,312.66 472.04,312.21Z" fill="none" stroke="#111" stroke-width="0.85" clip-path="url(#cp5)"/>
<path d="M473.40,312.45 C473.55,312.09 473.61,311.15 474.03,310.81 C474.45,310.46 475.15,310.53 475.94,310.37 C476.74,310.22 478.13,309.82 478.79,309.86 C479.44,309.90 479.70,310.29 479.86,310.60 C480.02,310.90 479.95,311.20 479.75,311.68 C479.55,312.16 479.17,313.15 478.65,313.47 C478.14,313.79 477.24,313.44 476.63,313.61 C476.02,313.78 475.52,314.29 474.99,314.49 C474.47,314.70 473.78,315.07 473.47,314.82 C473.17,314.57 473.17,313.37 473.16,312.98 C473.15,312.58 473.26,312.81 473.40,312.45Z" fill="none" stroke="#111" stroke-width="0.85" clip-path="url(#cp5)"/>
<path d="M474.40,311.79 C474.60,311.54 474.55,311.87 474.91,311.66 C475.27,311.44 476.08,310.61 476.55,310.52 C477.02,310.43 477.43,311.16 477.71,311.14 C478.00,311.12 478.07,310.28 478.26,310.41 C478.45,310.54 478.87,311.48 478.85,311.92 C478.83,312.37 478.55,312.77 478.15,313.08 C477.76,313.39 476.93,313.65 476.50,313.80 C476.07,313.95 475.87,313.97 475.57,313.97 C475.28,313.97 475.03,313.95 474.72,313.82 C474.42,313.68 473.78,313.50 473.73,313.16 C473.68,312.83 474.21,312.04 474.40,311.79Z" fill="none" stroke="#111" stroke-width="0.85" clip-path="url(#cp5)"/>
<ellipse cx="474" cy="310" rx="0.9" ry="0.6" fill="#fff" opacity="0.9"/>
<rect x="265.3" y="180.5" width="81.80" height="80.90" fill="none" stroke="#7c7c7c" stroke-width="1.05"/>
<rect x="349.3" y="180.5" width="81.50" height="80.90" fill="none" stroke="#7c7c7c" stroke-width="1.05"/>
<rect x="430.8" y="180.5" width="83.00" height="80.90" fill="none" stroke="#7c7c7c" stroke-width="1.05"/>
<rect x="264.8" y="271.8" width="82.40" height="81.80" fill="none" stroke="#6e6e6e" stroke-width="1.05"/>
<rect x="349.5" y="271.8" width="81.70" height="81.80" fill="none" stroke="#6e6e6e" stroke-width="1.05"/>
<rect x="431.2" y="271.8" width="81.80" height="81.80" fill="none" stroke="#6e6e6e" stroke-width="1.05"/>
<text x="266.80" y="188.20" font-size="7.7" text-anchor="start" font-weight="bold" fill="#111" >46</text>
<text x="344.60" y="188.20" font-size="7.7" text-anchor="end" font-weight="bold" fill="#111" >54</text>
<text x="350.40" y="188.20" font-size="7.7" text-anchor="start" font-weight="bold" fill="#111" >95</text>
<text x="428.80" y="188.20" font-size="7.7" text-anchor="end" font-weight="bold" fill="#111" >4.3</text>
<text x="432.80" y="188.20" font-size="7.7" text-anchor="start" font-weight="bold" fill="#111" >93</text>
<text x="512.00" y="188.20" font-size="7.7" text-anchor="end" font-weight="bold" fill="#111" >6.6</text>
<text x="266.60" y="280.00" font-size="7.7" text-anchor="start" font-weight="bold" fill="#111" >9</text>
<text x="351.00" y="280.00" font-size="7.7" text-anchor="start" font-weight="bold" fill="#111" >92</text>
<text x="432.60" y="280.00" font-size="7.7" text-anchor="start" font-weight="bold" fill="#111" >87</text>
<text x="264.60" y="269.30" font-size="7.5" text-anchor="start" font-weight="bold" fill="#111" >Gr-1</text>
<line x1="281.00" y1="266.80" x2="294.50" y2="266.80" stroke="#111" stroke-width="1.3" />
<polygon points="297.50,266.80 293.70,264.80 293.70,268.80" fill="#111"/>
<text x="264.80" y="362.70" font-size="7.6" text-anchor="start" font-weight="bold" fill="#111" >FSC</text>
<line x1="280.50" y1="360.20" x2="293.00" y2="360.20" stroke="#111" stroke-width="1.3" />
<polygon points="296.00,360.20 292.20,358.20 292.20,362.20" fill="#111"/>
<text transform="translate(264.4,263.2) rotate(-90)" font-size="7.5" font-weight="bold" fill="#111">Mac-1</text>
<line x1="261.80" y1="240.80" x2="261.80" y2="230.00" stroke="#111" stroke-width="1.3" />
<polygon points="261.80,227.00 259.80,230.80 263.80,230.80" fill="#111"/>
<text transform="translate(264.5,355.4) rotate(-90)" font-size="7.5" font-weight="bold" fill="#111">c-Kit</text>
<line x1="262.20" y1="336.50" x2="262.20" y2="323.00" stroke="#111" stroke-width="1.3" />
<polygon points="262.20,320.00 260.20,323.80 264.20,323.80" fill="#111"/>
</svg>
</body></html>
